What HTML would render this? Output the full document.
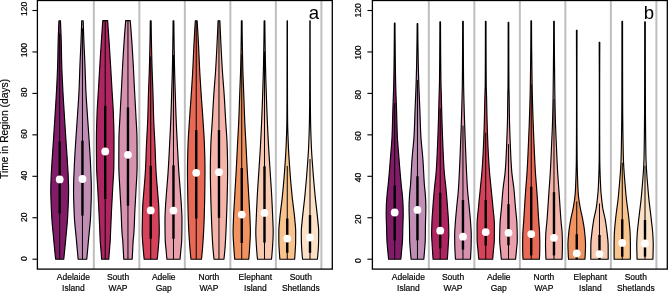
<!DOCTYPE html>
<html><head><meta charset="utf-8"><style>
html,body{margin:0;padding:0;background:#fff;width:668px;height:293px;overflow:hidden}
svg{display:block;will-change:transform}
text{font-family:"Liberation Sans",sans-serif;fill:#000;stroke:#000;stroke-width:0.18px}
.tk{font-size:8.5px}
.xl{font-size:8.5px}
.pl{font-size:18.6px;stroke-width:0}
.yt{font-size:10.27px}
</style></head><body>
<svg width="668" height="293" viewBox="0 0 668 293">
<rect width="668" height="293" fill="#fff"/>
<line x1="93.83" y1="0.50" x2="93.83" y2="269.10" stroke="#BEBEBE" stroke-width="2"/>
<line x1="139.34" y1="0.50" x2="139.34" y2="269.10" stroke="#BEBEBE" stroke-width="2"/>
<line x1="184.85" y1="0.50" x2="184.85" y2="269.10" stroke="#BEBEBE" stroke-width="2"/>
<line x1="230.36" y1="0.50" x2="230.36" y2="269.10" stroke="#BEBEBE" stroke-width="2"/>
<line x1="275.87" y1="0.50" x2="275.87" y2="269.10" stroke="#BEBEBE" stroke-width="2"/>
<line x1="321.38" y1="0.50" x2="321.38" y2="269.10" stroke="#BEBEBE" stroke-width="2"/>
<path d="M58.95,20.70 L58.86,22.70 L58.77,24.71 L58.68,26.71 L58.60,28.72 L58.52,30.72 L58.44,32.73 L58.37,34.73 L58.30,36.73 L58.24,38.74 L58.18,40.74 L58.13,42.75 L58.08,44.75 L58.04,46.75 L58.00,48.76 L57.96,50.76 L57.92,52.77 L57.88,54.77 L57.85,56.78 L57.80,58.78 L57.76,60.78 L57.71,62.79 L57.66,64.79 L57.59,66.80 L57.53,68.80 L57.45,70.81 L57.37,72.81 L57.29,74.81 L57.20,76.82 L57.11,78.82 L57.01,80.83 L56.91,82.83 L56.81,84.83 L56.71,86.84 L56.61,88.84 L56.51,90.85 L56.40,92.85 L56.29,94.86 L56.17,96.86 L56.06,98.86 L55.93,100.87 L55.81,102.87 L55.69,104.88 L55.56,106.88 L55.43,108.88 L55.31,110.89 L55.18,112.89 L55.06,114.90 L54.93,116.90 L54.81,118.91 L54.68,120.91 L54.55,122.91 L54.42,124.92 L54.30,126.92 L54.17,128.93 L54.04,130.93 L53.91,132.94 L53.78,134.94 L53.65,136.94 L53.52,138.95 L53.39,140.95 L53.25,142.96 L53.12,144.96 L52.98,146.96 L52.85,148.97 L52.71,150.97 L52.57,152.98 L52.44,154.98 L52.30,156.99 L52.17,158.99 L52.04,160.99 L51.92,163.00 L51.80,165.00 L51.68,167.01 L51.56,169.01 L51.44,171.02 L51.33,173.02 L51.23,175.02 L51.15,177.03 L51.07,179.03 L51.00,181.04 L50.93,183.04 L50.87,185.04 L50.83,187.05 L50.80,189.05 L50.80,191.06 L50.82,193.06 L50.85,195.07 L50.90,197.07 L50.95,199.07 L51.02,201.08 L51.10,203.08 L51.18,205.09 L51.27,207.09 L51.36,209.09 L51.46,211.10 L51.56,213.10 L51.65,215.11 L51.76,217.11 L51.89,219.12 L52.03,221.12 L52.19,223.12 L52.36,225.13 L52.54,227.13 L52.72,229.14 L52.91,231.14 L53.10,233.15 L53.30,235.15 L53.49,237.15 L53.67,239.16 L53.85,241.16 L54.04,243.17 L54.23,245.17 L54.42,247.17 L54.62,249.18 L54.82,251.18 L55.02,253.19 L55.23,255.19 L55.44,257.20 L55.65,259.20 L63.75,259.20 L63.96,257.20 L64.17,255.19 L64.38,253.19 L64.58,251.18 L64.78,249.18 L64.98,247.17 L65.17,245.17 L65.36,243.17 L65.54,241.16 L65.73,239.16 L65.91,237.15 L66.10,235.15 L66.30,233.15 L66.49,231.14 L66.68,229.14 L66.86,227.13 L67.04,225.13 L67.21,223.12 L67.37,221.12 L67.51,219.12 L67.64,217.11 L67.74,215.11 L67.84,213.10 L67.94,211.10 L68.04,209.09 L68.13,207.09 L68.22,205.09 L68.30,203.08 L68.38,201.08 L68.45,199.07 L68.50,197.07 L68.55,195.07 L68.58,193.06 L68.60,191.06 L68.60,189.05 L68.57,187.05 L68.53,185.04 L68.47,183.04 L68.40,181.04 L68.32,179.03 L68.25,177.03 L68.17,175.02 L68.07,173.02 L67.96,171.02 L67.84,169.01 L67.72,167.01 L67.60,165.00 L67.48,163.00 L67.35,160.99 L67.23,158.99 L67.10,156.99 L66.96,154.98 L66.83,152.98 L66.69,150.97 L66.55,148.97 L66.42,146.96 L66.28,144.96 L66.14,142.96 L66.01,140.95 L65.88,138.95 L65.75,136.94 L65.62,134.94 L65.49,132.94 L65.36,130.93 L65.23,128.93 L65.10,126.92 L64.97,124.92 L64.85,122.91 L64.72,120.91 L64.59,118.91 L64.47,116.90 L64.34,114.90 L64.22,112.89 L64.09,110.89 L63.97,108.88 L63.84,106.88 L63.71,104.88 L63.59,102.87 L63.46,100.87 L63.34,98.86 L63.23,96.86 L63.11,94.86 L63.00,92.85 L62.89,90.85 L62.79,88.84 L62.69,86.84 L62.59,84.83 L62.49,82.83 L62.39,80.83 L62.29,78.82 L62.20,76.82 L62.11,74.81 L62.03,72.81 L61.95,70.81 L61.87,68.80 L61.81,66.80 L61.74,64.79 L61.69,62.79 L61.64,60.78 L61.59,58.78 L61.55,56.78 L61.51,54.77 L61.48,52.77 L61.44,50.76 L61.40,48.76 L61.36,46.75 L61.32,44.75 L61.27,42.75 L61.22,40.74 L61.16,38.74 L61.10,36.73 L61.03,34.73 L60.96,32.73 L60.88,30.72 L60.80,28.72 L60.72,26.71 L60.63,24.71 L60.54,22.70 L60.45,20.70 Z" fill="#821B68" stroke="#000" stroke-width="1.15" stroke-linejoin="round"/>
<line x1="59.70" y1="33.50" x2="59.70" y2="259.20" stroke="#000" stroke-width="1"/>
<rect x="58.50" y="141.50" width="2.4" height="72.00" fill="#000"/>
<circle cx="59.70" cy="179.40" r="3.9" fill="#fff"/>
<path d="M81.70,20.70 L81.64,22.70 L81.58,24.71 L81.52,26.71 L81.45,28.72 L81.39,30.72 L81.32,32.73 L81.25,34.73 L81.18,36.73 L81.10,38.74 L81.03,40.74 L80.95,42.75 L80.86,44.75 L80.77,46.75 L80.68,48.76 L80.59,50.76 L80.50,52.77 L80.40,54.77 L80.31,56.78 L80.22,58.78 L80.13,60.78 L80.04,62.79 L79.96,64.79 L79.89,66.80 L79.81,68.80 L79.74,70.81 L79.68,72.81 L79.61,74.81 L79.55,76.82 L79.48,78.82 L79.41,80.83 L79.34,82.83 L79.27,84.83 L79.19,86.84 L79.11,88.84 L79.01,90.85 L78.92,92.85 L78.81,94.86 L78.69,96.86 L78.57,98.86 L78.45,100.87 L78.32,102.87 L78.18,104.88 L78.05,106.88 L77.91,108.88 L77.78,110.89 L77.64,112.89 L77.51,114.90 L77.38,116.90 L77.24,118.91 L77.11,120.91 L76.97,122.91 L76.83,124.92 L76.69,126.92 L76.55,128.93 L76.41,130.93 L76.27,132.94 L76.13,134.94 L76.00,136.94 L75.87,138.95 L75.74,140.95 L75.62,142.96 L75.49,144.96 L75.36,146.96 L75.23,148.97 L75.11,150.97 L74.98,152.98 L74.86,154.98 L74.75,156.99 L74.64,158.99 L74.54,160.99 L74.44,163.00 L74.35,165.00 L74.27,167.01 L74.18,169.01 L74.09,171.02 L74.01,173.02 L73.92,175.02 L73.84,177.03 L73.77,179.03 L73.70,181.04 L73.65,183.04 L73.60,185.04 L73.57,187.05 L73.56,189.05 L73.56,191.06 L73.57,193.06 L73.59,195.07 L73.63,197.07 L73.68,199.07 L73.73,201.08 L73.79,203.08 L73.86,205.09 L73.93,207.09 L74.01,209.09 L74.09,211.10 L74.17,213.10 L74.26,215.11 L74.36,217.11 L74.48,219.12 L74.63,221.12 L74.79,223.12 L74.96,225.13 L75.15,227.13 L75.35,229.14 L75.55,231.14 L75.75,233.15 L75.95,235.15 L76.14,237.15 L76.33,239.16 L76.51,241.16 L76.69,243.17 L76.87,245.17 L77.05,247.17 L77.23,249.18 L77.41,251.18 L77.60,253.19 L77.78,255.19 L77.97,257.20 L78.15,259.20 L86.75,259.20 L86.94,257.20 L87.13,255.19 L87.31,253.19 L87.50,251.18 L87.68,249.18 L87.86,247.17 L88.04,245.17 L88.22,243.17 L88.40,241.16 L88.58,239.16 L88.77,237.15 L88.96,235.15 L89.16,233.15 L89.36,231.14 L89.56,229.14 L89.76,227.13 L89.95,225.13 L90.12,223.12 L90.28,221.12 L90.43,219.12 L90.55,217.11 L90.65,215.11 L90.73,213.10 L90.82,211.10 L90.90,209.09 L90.98,207.09 L91.05,205.09 L91.12,203.08 L91.18,201.08 L91.23,199.07 L91.28,197.07 L91.31,195.07 L91.34,193.06 L91.35,191.06 L91.35,189.05 L91.34,187.05 L91.30,185.04 L91.26,183.04 L91.20,181.04 L91.14,179.03 L91.07,177.03 L90.99,175.02 L90.90,173.02 L90.81,171.02 L90.73,169.01 L90.64,167.01 L90.55,165.00 L90.47,163.00 L90.37,160.99 L90.27,158.99 L90.16,156.99 L90.04,154.98 L89.92,152.98 L89.80,150.97 L89.68,148.97 L89.55,146.96 L89.42,144.96 L89.29,142.96 L89.16,140.95 L89.04,138.95 L88.91,136.94 L88.77,134.94 L88.64,132.94 L88.50,130.93 L88.36,128.93 L88.22,126.92 L88.08,124.92 L87.94,122.91 L87.80,120.91 L87.66,118.91 L87.53,116.90 L87.40,114.90 L87.27,112.89 L87.13,110.89 L87.00,108.88 L86.86,106.88 L86.73,104.88 L86.59,102.87 L86.46,100.87 L86.34,98.86 L86.22,96.86 L86.10,94.86 L85.99,92.85 L85.89,90.85 L85.80,88.84 L85.72,86.84 L85.64,84.83 L85.57,82.83 L85.50,80.83 L85.43,78.82 L85.36,76.82 L85.30,74.81 L85.23,72.81 L85.17,70.81 L85.10,68.80 L85.02,66.80 L84.95,64.79 L84.86,62.79 L84.78,60.78 L84.69,58.78 L84.60,56.78 L84.50,54.77 L84.41,52.77 L84.32,50.76 L84.23,48.76 L84.14,46.75 L84.05,44.75 L83.96,42.75 L83.88,40.74 L83.81,38.74 L83.73,36.73 L83.66,34.73 L83.59,32.73 L83.52,30.72 L83.45,28.72 L83.39,26.71 L83.33,24.71 L83.26,22.70 L83.20,20.70 Z" fill="#C08DB4" stroke="#000" stroke-width="1.15" stroke-linejoin="round"/>
<line x1="82.45" y1="28.40" x2="82.45" y2="259.20" stroke="#000" stroke-width="1"/>
<rect x="81.25" y="140.70" width="2.4" height="74.90" fill="#000"/>
<circle cx="82.45" cy="179.00" r="3.9" fill="#fff"/>
<path d="M102.81,20.60 L102.66,22.61 L102.52,24.61 L102.38,26.62 L102.24,28.62 L102.10,30.63 L101.96,32.63 L101.82,34.64 L101.68,36.64 L101.55,38.65 L101.42,40.65 L101.28,42.66 L101.15,44.66 L101.02,46.67 L100.89,48.67 L100.76,50.68 L100.63,52.68 L100.50,54.69 L100.37,56.69 L100.25,58.70 L100.12,60.70 L100.00,62.71 L99.88,64.71 L99.75,66.72 L99.63,68.72 L99.52,70.73 L99.40,72.73 L99.28,74.74 L99.17,76.74 L99.05,78.75 L98.94,80.75 L98.82,82.76 L98.71,84.76 L98.59,86.77 L98.48,88.77 L98.36,90.78 L98.24,92.78 L98.12,94.79 L97.99,96.79 L97.87,98.80 L97.74,100.80 L97.62,102.81 L97.50,104.81 L97.38,106.82 L97.28,108.82 L97.18,110.83 L97.09,112.83 L97.01,114.84 L96.95,116.84 L96.88,118.85 L96.81,120.85 L96.74,122.86 L96.68,124.86 L96.62,126.87 L96.57,128.87 L96.52,130.88 L96.48,132.88 L96.45,134.89 L96.42,136.89 L96.41,138.90 L96.41,140.90 L96.41,142.91 L96.42,144.91 L96.42,146.92 L96.43,148.92 L96.44,150.93 L96.45,152.93 L96.47,154.94 L96.48,156.94 L96.50,158.95 L96.52,160.95 L96.54,162.96 L96.56,164.96 L96.59,166.97 L96.65,168.97 L96.72,170.98 L96.81,172.98 L96.91,174.99 L97.03,176.99 L97.15,179.00 L97.27,181.00 L97.40,183.01 L97.52,185.01 L97.64,187.02 L97.76,189.02 L97.86,191.03 L97.97,193.03 L98.07,195.04 L98.18,197.04 L98.29,199.05 L98.40,201.05 L98.51,203.06 L98.61,205.06 L98.71,207.07 L98.81,209.07 L98.91,211.08 L99.00,213.08 L99.10,215.09 L99.19,217.09 L99.28,219.10 L99.37,221.10 L99.46,223.11 L99.54,225.11 L99.63,227.12 L99.71,229.12 L99.80,231.13 L99.88,233.13 L99.96,235.14 L100.04,237.14 L100.12,239.15 L100.23,241.15 L100.37,243.16 L100.54,245.16 L100.72,247.17 L100.89,249.17 L101.05,251.18 L101.21,253.18 L101.36,255.19 L101.51,257.19 L101.66,259.20 L108.76,259.20 L108.91,257.19 L109.06,255.19 L109.21,253.18 L109.37,251.18 L109.53,249.17 L109.70,247.17 L109.88,245.16 L110.05,243.16 L110.19,241.15 L110.30,239.15 L110.38,237.14 L110.45,235.14 L110.54,233.13 L110.62,231.13 L110.70,229.12 L110.79,227.12 L110.88,225.11 L110.96,223.11 L111.05,221.10 L111.14,219.10 L111.23,217.09 L111.32,215.09 L111.41,213.08 L111.51,211.08 L111.60,209.07 L111.70,207.07 L111.81,205.06 L111.91,203.06 L112.02,201.05 L112.13,199.05 L112.24,197.04 L112.34,195.04 L112.45,193.03 L112.56,191.03 L112.66,189.02 L112.77,187.02 L112.89,185.01 L113.02,183.01 L113.14,181.00 L113.27,179.00 L113.39,176.99 L113.50,174.99 L113.61,172.98 L113.70,170.98 L113.77,168.97 L113.83,166.97 L113.86,164.96 L113.88,162.96 L113.90,160.95 L113.92,158.95 L113.94,156.94 L113.95,154.94 L113.96,152.93 L113.98,150.93 L113.99,148.92 L114.00,146.92 L114.00,144.91 L114.01,142.91 L114.01,140.90 L114.01,138.90 L113.99,136.89 L113.97,134.89 L113.94,132.88 L113.90,130.88 L113.85,128.87 L113.80,126.87 L113.74,124.86 L113.67,122.86 L113.61,120.85 L113.54,118.85 L113.47,116.84 L113.40,114.84 L113.33,112.83 L113.24,110.83 L113.14,108.82 L113.04,106.82 L112.92,104.81 L112.80,102.81 L112.68,100.80 L112.55,98.80 L112.42,96.79 L112.30,94.79 L112.17,92.78 L112.05,90.78 L111.94,88.77 L111.82,86.77 L111.71,84.76 L111.60,82.76 L111.48,80.75 L111.37,78.75 L111.25,76.74 L111.14,74.74 L111.02,72.73 L110.90,70.73 L110.78,68.72 L110.66,66.72 L110.54,64.71 L110.42,62.71 L110.29,60.70 L110.17,58.70 L110.04,56.69 L109.92,54.69 L109.79,52.68 L109.66,50.68 L109.53,48.67 L109.40,46.67 L109.27,44.66 L109.14,42.66 L109.00,40.65 L108.87,38.65 L108.73,36.64 L108.60,34.64 L108.46,32.63 L108.32,30.63 L108.18,28.62 L108.04,26.62 L107.90,24.61 L107.75,22.61 L107.61,20.60 Z" fill="#AF2562" stroke="#000" stroke-width="1.15" stroke-linejoin="round"/>
<line x1="105.21" y1="20.60" x2="105.21" y2="259.20" stroke="#000" stroke-width="1"/>
<rect x="104.01" y="106.00" width="2.4" height="93.00" fill="#000"/>
<circle cx="105.21" cy="151.50" r="3.9" fill="#fff"/>
<path d="M125.71,20.60 L125.55,22.61 L125.38,24.61 L125.22,26.62 L125.06,28.62 L124.90,30.63 L124.75,32.63 L124.60,34.64 L124.45,36.64 L124.31,38.65 L124.17,40.65 L124.03,42.66 L123.90,44.66 L123.77,46.67 L123.64,48.67 L123.51,50.68 L123.38,52.68 L123.26,54.69 L123.14,56.69 L123.02,58.70 L122.91,60.70 L122.79,62.71 L122.68,64.71 L122.57,66.72 L122.46,68.72 L122.36,70.73 L122.26,72.73 L122.16,74.74 L122.06,76.74 L121.97,78.75 L121.87,80.75 L121.77,82.76 L121.68,84.76 L121.58,86.77 L121.48,88.77 L121.37,90.78 L121.27,92.78 L121.16,94.79 L121.05,96.79 L120.94,98.80 L120.83,100.80 L120.71,102.81 L120.60,104.81 L120.49,106.82 L120.38,108.82 L120.28,110.83 L120.17,112.83 L120.07,114.84 L119.97,116.84 L119.86,118.85 L119.74,120.85 L119.62,122.86 L119.51,124.86 L119.39,126.87 L119.28,128.87 L119.18,130.88 L119.09,132.88 L119.02,134.89 L118.96,136.89 L118.93,138.90 L118.91,140.90 L118.89,142.91 L118.88,144.91 L118.87,146.92 L118.86,148.92 L118.85,150.93 L118.84,152.93 L118.83,154.94 L118.82,156.94 L118.82,158.95 L118.82,160.95 L118.81,162.96 L118.81,164.96 L118.83,166.97 L118.86,168.97 L118.92,170.98 L118.99,172.98 L119.08,174.99 L119.18,176.99 L119.29,179.00 L119.41,181.00 L119.53,183.01 L119.64,185.01 L119.76,187.02 L119.86,189.02 L119.96,191.03 L120.07,193.03 L120.18,195.04 L120.29,197.04 L120.41,199.05 L120.52,201.05 L120.64,203.06 L120.75,205.06 L120.86,207.07 L120.97,209.07 L121.07,211.08 L121.16,213.08 L121.24,215.09 L121.32,217.09 L121.39,219.10 L121.47,221.10 L121.55,223.11 L121.63,225.11 L121.71,227.12 L121.81,229.12 L121.92,231.13 L122.04,233.13 L122.17,235.14 L122.39,237.14 L122.64,239.15 L122.80,241.15 L122.92,243.16 L123.02,245.16 L123.12,247.17 L123.22,249.17 L123.33,251.18 L123.44,253.18 L123.55,255.19 L123.65,257.19 L123.76,259.20 L132.16,259.20 L132.27,257.19 L132.38,255.19 L132.49,253.18 L132.60,251.18 L132.71,249.17 L132.81,247.17 L132.90,245.16 L133.01,243.16 L133.13,241.15 L133.29,239.15 L133.54,237.14 L133.75,235.14 L133.89,233.13 L134.01,231.13 L134.12,229.12 L134.21,227.12 L134.30,225.11 L134.38,223.11 L134.46,221.10 L134.53,219.10 L134.61,217.09 L134.69,215.09 L134.77,213.08 L134.86,211.08 L134.96,209.07 L135.07,207.07 L135.18,205.06 L135.29,203.06 L135.41,201.05 L135.52,199.05 L135.64,197.04 L135.75,195.04 L135.86,193.03 L135.96,191.03 L136.06,189.02 L136.17,187.02 L136.28,185.01 L136.40,183.01 L136.52,181.00 L136.63,179.00 L136.74,176.99 L136.84,174.99 L136.93,172.98 L137.01,170.98 L137.06,168.97 L137.10,166.97 L137.11,164.96 L137.11,162.96 L137.11,160.95 L137.11,158.95 L137.10,156.94 L137.10,154.94 L137.09,152.93 L137.08,150.93 L137.07,148.92 L137.06,146.92 L137.05,144.91 L137.03,142.91 L137.02,140.90 L137.00,138.90 L136.96,136.89 L136.91,134.89 L136.83,132.88 L136.74,130.88 L136.64,128.87 L136.54,126.87 L136.42,124.86 L136.30,122.86 L136.19,120.85 L136.07,118.85 L135.96,116.84 L135.86,114.84 L135.75,112.83 L135.65,110.83 L135.54,108.82 L135.43,106.82 L135.32,104.81 L135.21,102.81 L135.10,100.80 L134.99,98.80 L134.88,96.79 L134.77,94.79 L134.66,92.78 L134.55,90.78 L134.45,88.77 L134.35,86.77 L134.25,84.76 L134.15,82.76 L134.06,80.75 L133.96,78.75 L133.86,76.74 L133.77,74.74 L133.67,72.73 L133.57,70.73 L133.46,68.72 L133.36,66.72 L133.25,64.71 L133.14,62.71 L133.02,60.70 L132.90,58.70 L132.79,56.69 L132.67,54.69 L132.54,52.68 L132.42,50.68 L132.29,48.67 L132.16,46.67 L132.03,44.66 L131.89,42.66 L131.76,40.65 L131.62,38.65 L131.48,36.64 L131.33,34.64 L131.18,32.63 L131.02,30.63 L130.87,28.62 L130.71,26.62 L130.55,24.61 L130.38,22.61 L130.21,20.60 Z" fill="#D792B0" stroke="#000" stroke-width="1.15" stroke-linejoin="round"/>
<line x1="127.96" y1="20.60" x2="127.96" y2="259.20" stroke="#000" stroke-width="1"/>
<rect x="126.76" y="107.50" width="2.4" height="98.20" fill="#000"/>
<circle cx="127.96" cy="154.80" r="3.9" fill="#fff"/>
<path d="M150.32,20.70 L150.30,22.70 L150.27,24.71 L150.25,26.71 L150.22,28.72 L150.19,30.72 L150.16,32.73 L150.13,34.73 L150.09,36.73 L150.06,38.74 L150.02,40.74 L149.98,42.75 L149.94,44.75 L149.90,46.75 L149.85,48.76 L149.81,50.76 L149.76,52.77 L149.72,54.77 L149.67,56.78 L149.62,58.78 L149.57,60.78 L149.52,62.79 L149.47,64.79 L149.42,66.80 L149.36,68.80 L149.30,70.81 L149.23,72.81 L149.16,74.81 L149.09,76.82 L149.01,78.82 L148.93,80.83 L148.86,82.83 L148.78,84.83 L148.70,86.84 L148.63,88.84 L148.56,90.85 L148.49,92.85 L148.42,94.86 L148.36,96.86 L148.31,98.86 L148.25,100.87 L148.20,102.87 L148.15,104.88 L148.10,106.88 L148.05,108.88 L148.00,110.89 L147.94,112.89 L147.88,114.90 L147.82,116.90 L147.76,118.91 L147.68,120.91 L147.60,122.91 L147.51,124.92 L147.42,126.92 L147.31,128.93 L147.21,130.93 L147.10,132.94 L146.99,134.94 L146.88,136.94 L146.77,138.95 L146.66,140.95 L146.56,142.96 L146.47,144.96 L146.38,146.96 L146.30,148.97 L146.23,150.97 L146.15,152.98 L146.08,154.98 L146.01,156.99 L145.94,158.99 L145.86,160.99 L145.79,163.00 L145.70,165.00 L145.62,167.01 L145.52,169.01 L145.41,171.02 L145.29,173.02 L145.16,175.02 L145.02,177.03 L144.87,179.03 L144.71,181.04 L144.55,183.04 L144.38,185.04 L144.21,187.05 L144.04,189.05 L143.88,191.06 L143.72,193.06 L143.56,195.07 L143.40,197.07 L143.23,199.07 L143.05,201.08 L142.89,203.08 L142.76,205.09 L142.66,207.09 L142.60,209.09 L142.55,211.10 L142.50,213.10 L142.46,215.11 L142.42,217.11 L142.38,219.12 L142.35,221.12 L142.30,223.12 L142.26,225.13 L142.22,227.13 L142.19,229.14 L142.17,231.14 L142.18,233.15 L142.25,235.15 L142.35,237.15 L142.47,239.16 L142.59,241.16 L142.73,243.17 L142.90,245.17 L143.07,247.17 L143.25,249.18 L143.42,251.18 L143.60,253.19 L143.78,255.19 L143.97,257.20 L144.17,259.20 L157.27,259.20 L157.46,257.20 L157.65,255.19 L157.84,253.19 L158.02,251.18 L158.19,249.18 L158.37,247.17 L158.54,245.17 L158.70,243.17 L158.85,241.16 L158.97,239.16 L159.09,237.15 L159.19,235.15 L159.26,233.15 L159.27,231.14 L159.25,229.14 L159.22,227.13 L159.18,225.13 L159.13,223.12 L159.09,221.12 L159.05,219.12 L159.01,217.11 L158.98,215.11 L158.94,213.10 L158.89,211.10 L158.84,209.09 L158.77,207.09 L158.68,205.09 L158.54,203.08 L158.38,201.08 L158.21,199.07 L158.04,197.07 L157.87,195.07 L157.72,193.06 L157.56,191.06 L157.39,189.05 L157.23,187.05 L157.06,185.04 L156.89,183.04 L156.73,181.04 L156.57,179.03 L156.42,177.03 L156.27,175.02 L156.14,173.02 L156.02,171.02 L155.92,169.01 L155.82,167.01 L155.73,165.00 L155.65,163.00 L155.57,160.99 L155.50,158.99 L155.42,156.99 L155.35,154.98 L155.28,152.98 L155.21,150.97 L155.13,148.97 L155.05,146.96 L154.97,144.96 L154.87,142.96 L154.77,140.95 L154.67,138.95 L154.56,136.94 L154.45,134.94 L154.34,132.94 L154.23,130.93 L154.12,128.93 L154.02,126.92 L153.92,124.92 L153.83,122.91 L153.75,120.91 L153.68,118.91 L153.61,116.90 L153.55,114.90 L153.49,112.89 L153.44,110.89 L153.39,108.88 L153.34,106.88 L153.29,104.88 L153.24,102.87 L153.18,100.87 L153.13,98.86 L153.07,96.86 L153.01,94.86 L152.95,92.85 L152.88,90.85 L152.81,88.84 L152.73,86.84 L152.66,84.83 L152.58,82.83 L152.50,80.83 L152.43,78.82 L152.35,76.82 L152.28,74.81 L152.21,72.81 L152.14,70.81 L152.07,68.80 L152.02,66.80 L151.96,64.79 L151.91,62.79 L151.86,60.78 L151.81,58.78 L151.77,56.78 L151.72,54.77 L151.67,52.77 L151.63,50.76 L151.58,48.76 L151.54,46.75 L151.50,44.75 L151.46,42.75 L151.42,40.74 L151.38,38.74 L151.34,36.73 L151.31,34.73 L151.27,32.73 L151.24,30.72 L151.21,28.72 L151.19,26.71 L151.16,24.71 L151.14,22.70 L151.12,20.70 Z" fill="#D54259" stroke="#000" stroke-width="1.15" stroke-linejoin="round"/>
<line x1="150.72" y1="56.40" x2="150.72" y2="259.20" stroke="#000" stroke-width="1"/>
<rect x="149.52" y="165.80" width="2.4" height="72.90" fill="#000"/>
<circle cx="150.72" cy="210.40" r="3.9" fill="#fff"/>
<path d="M173.07,20.70 L173.06,22.70 L173.05,24.71 L173.03,26.71 L173.02,28.72 L173.00,30.72 L172.98,32.73 L172.96,34.73 L172.93,36.73 L172.91,38.74 L172.88,40.74 L172.85,42.75 L172.82,44.75 L172.79,46.75 L172.76,48.76 L172.73,50.76 L172.69,52.77 L172.66,54.77 L172.62,56.78 L172.59,58.78 L172.55,60.78 L172.51,62.79 L172.48,64.79 L172.44,66.80 L172.39,68.80 L172.35,70.81 L172.30,72.81 L172.24,74.81 L172.19,76.82 L172.13,78.82 L172.07,80.83 L172.01,82.83 L171.94,84.83 L171.88,86.84 L171.82,88.84 L171.75,90.85 L171.69,92.85 L171.63,94.86 L171.56,96.86 L171.50,98.86 L171.44,100.87 L171.38,102.87 L171.31,104.88 L171.25,106.88 L171.18,108.88 L171.11,110.89 L171.04,112.89 L170.97,114.90 L170.89,116.90 L170.82,118.91 L170.74,120.91 L170.65,122.91 L170.56,124.92 L170.47,126.92 L170.38,128.93 L170.28,130.93 L170.19,132.94 L170.09,134.94 L169.98,136.94 L169.88,138.95 L169.78,140.95 L169.68,142.96 L169.57,144.96 L169.47,146.96 L169.37,148.97 L169.27,150.97 L169.17,152.98 L169.07,154.98 L168.96,156.99 L168.86,158.99 L168.75,160.99 L168.64,163.00 L168.52,165.00 L168.41,167.01 L168.28,169.01 L168.16,171.02 L168.02,173.02 L167.88,175.02 L167.73,177.03 L167.58,179.03 L167.42,181.04 L167.26,183.04 L167.10,185.04 L166.94,187.05 L166.78,189.05 L166.62,191.06 L166.47,193.06 L166.32,195.07 L166.17,197.07 L166.01,199.07 L165.86,201.08 L165.71,203.08 L165.58,205.09 L165.47,207.09 L165.36,209.09 L165.26,211.10 L165.16,213.10 L165.07,215.11 L165.01,217.11 L164.98,219.12 L164.97,221.12 L164.98,223.12 L164.99,225.13 L165.01,227.13 L165.03,229.14 L165.05,231.14 L165.08,233.15 L165.12,235.15 L165.16,237.15 L165.20,239.16 L165.27,241.16 L165.40,243.17 L165.58,245.17 L165.79,247.17 L166.00,249.18 L166.18,251.18 L166.36,253.19 L166.54,255.19 L166.73,257.20 L166.92,259.20 L180.02,259.20 L180.21,257.20 L180.40,255.19 L180.59,253.19 L180.77,251.18 L180.95,249.18 L181.15,247.17 L181.36,245.17 L181.55,243.17 L181.68,241.16 L181.74,239.16 L181.79,237.15 L181.83,235.15 L181.86,233.15 L181.89,231.14 L181.92,229.14 L181.94,227.13 L181.96,225.13 L181.97,223.12 L181.97,221.12 L181.97,219.12 L181.93,217.11 L181.87,215.11 L181.79,213.10 L181.69,211.10 L181.58,209.09 L181.48,207.09 L181.37,205.09 L181.23,203.08 L181.09,201.08 L180.93,199.07 L180.78,197.07 L180.63,195.07 L180.48,193.06 L180.32,191.06 L180.17,189.05 L180.01,187.05 L179.85,185.04 L179.69,183.04 L179.53,181.04 L179.37,179.03 L179.21,177.03 L179.07,175.02 L178.92,173.02 L178.79,171.02 L178.66,169.01 L178.54,167.01 L178.42,165.00 L178.31,163.00 L178.20,160.99 L178.09,158.99 L177.98,156.99 L177.88,154.98 L177.78,152.98 L177.67,150.97 L177.57,148.97 L177.47,146.96 L177.37,144.96 L177.27,142.96 L177.17,140.95 L177.06,138.95 L176.96,136.94 L176.86,134.94 L176.76,132.94 L176.66,130.93 L176.57,128.93 L176.47,126.92 L176.38,124.92 L176.29,122.91 L176.21,120.91 L176.13,118.91 L176.05,116.90 L175.98,114.90 L175.91,112.89 L175.84,110.89 L175.77,108.88 L175.70,106.88 L175.63,104.88 L175.57,102.87 L175.51,100.87 L175.44,98.86 L175.38,96.86 L175.32,94.86 L175.26,92.85 L175.19,90.85 L175.13,88.84 L175.06,86.84 L175.00,84.83 L174.94,82.83 L174.88,80.83 L174.82,78.82 L174.76,76.82 L174.70,74.81 L174.65,72.81 L174.60,70.81 L174.55,68.80 L174.51,66.80 L174.47,64.79 L174.43,62.79 L174.39,60.78 L174.36,58.78 L174.32,56.78 L174.29,54.77 L174.25,52.77 L174.22,50.76 L174.19,48.76 L174.15,46.75 L174.12,44.75 L174.09,42.75 L174.07,40.74 L174.04,38.74 L174.01,36.73 L173.99,34.73 L173.97,32.73 L173.95,30.72 L173.93,28.72 L173.91,26.71 L173.90,24.71 L173.88,22.70 L173.87,20.70 Z" fill="#EAA0AC" stroke="#000" stroke-width="1.15" stroke-linejoin="round"/>
<line x1="173.47" y1="55.00" x2="173.47" y2="259.20" stroke="#000" stroke-width="1"/>
<rect x="172.27" y="165.30" width="2.4" height="73.40" fill="#000"/>
<circle cx="173.47" cy="210.60" r="3.9" fill="#fff"/>
<path d="M195.33,20.70 L195.20,22.70 L195.08,24.71 L194.95,26.71 L194.83,28.72 L194.71,30.72 L194.60,32.73 L194.48,34.73 L194.37,36.73 L194.26,38.74 L194.15,40.74 L194.04,42.75 L193.94,44.75 L193.84,46.75 L193.74,48.76 L193.65,50.76 L193.56,52.77 L193.47,54.77 L193.39,56.78 L193.30,58.78 L193.22,60.78 L193.13,62.79 L193.03,64.79 L192.94,66.80 L192.84,68.80 L192.73,70.81 L192.62,72.81 L192.51,74.81 L192.39,76.82 L192.27,78.82 L192.15,80.83 L192.02,82.83 L191.89,84.83 L191.76,86.84 L191.63,88.84 L191.50,90.85 L191.37,92.85 L191.24,94.86 L191.10,96.86 L190.97,98.86 L190.82,100.87 L190.68,102.87 L190.54,104.88 L190.39,106.88 L190.24,108.88 L190.10,110.89 L189.96,112.89 L189.82,114.90 L189.68,116.90 L189.55,118.91 L189.42,120.91 L189.29,122.91 L189.15,124.92 L189.02,126.92 L188.89,128.93 L188.75,130.93 L188.63,132.94 L188.50,134.94 L188.39,136.94 L188.28,138.95 L188.18,140.95 L188.10,142.96 L188.03,144.96 L187.96,146.96 L187.90,148.97 L187.84,150.97 L187.78,152.98 L187.72,154.98 L187.67,156.99 L187.62,158.99 L187.57,160.99 L187.54,163.00 L187.51,165.00 L187.49,167.01 L187.48,169.01 L187.48,171.02 L187.48,173.02 L187.49,175.02 L187.51,177.03 L187.52,179.03 L187.54,181.04 L187.56,183.04 L187.59,185.04 L187.62,187.05 L187.64,189.05 L187.67,191.06 L187.70,193.06 L187.73,195.07 L187.76,197.07 L187.79,199.07 L187.83,201.08 L187.87,203.08 L187.91,205.09 L187.96,207.09 L188.01,209.09 L188.06,211.10 L188.11,213.10 L188.17,215.11 L188.23,217.11 L188.30,219.12 L188.37,221.12 L188.44,223.12 L188.52,225.13 L188.61,227.13 L188.71,229.14 L188.81,231.14 L188.92,233.15 L189.04,235.15 L189.16,237.15 L189.29,239.16 L189.42,241.16 L189.55,243.17 L189.69,245.17 L189.84,247.17 L190.00,249.18 L190.18,251.18 L190.37,253.19 L190.56,255.19 L190.77,257.20 L190.98,259.20 L201.48,259.20 L201.69,257.20 L201.89,255.19 L202.09,253.19 L202.28,251.18 L202.45,249.18 L202.62,247.17 L202.77,245.17 L202.90,243.17 L203.04,241.16 L203.17,239.16 L203.29,237.15 L203.41,235.15 L203.53,233.15 L203.64,231.14 L203.74,229.14 L203.84,227.13 L203.93,225.13 L204.01,223.12 L204.09,221.12 L204.16,219.12 L204.22,217.11 L204.28,215.11 L204.34,213.10 L204.40,211.10 L204.45,209.09 L204.50,207.09 L204.54,205.09 L204.59,203.08 L204.63,201.08 L204.66,199.07 L204.70,197.07 L204.73,195.07 L204.75,193.06 L204.78,191.06 L204.81,189.05 L204.84,187.05 L204.87,185.04 L204.89,183.04 L204.91,181.04 L204.93,179.03 L204.95,177.03 L204.96,175.02 L204.97,173.02 L204.98,171.02 L204.98,169.01 L204.97,167.01 L204.95,165.00 L204.92,163.00 L204.88,160.99 L204.84,158.99 L204.79,156.99 L204.74,154.98 L204.68,152.98 L204.62,150.97 L204.55,148.97 L204.49,146.96 L204.43,144.96 L204.35,142.96 L204.27,140.95 L204.17,138.95 L204.07,136.94 L203.95,134.94 L203.83,132.94 L203.70,130.93 L203.57,128.93 L203.43,126.92 L203.30,124.92 L203.17,122.91 L203.04,120.91 L202.91,118.91 L202.77,116.90 L202.64,114.90 L202.50,112.89 L202.35,110.89 L202.21,108.88 L202.06,106.88 L201.92,104.88 L201.77,102.87 L201.63,100.87 L201.49,98.86 L201.35,96.86 L201.22,94.86 L201.09,92.85 L200.95,90.85 L200.82,88.84 L200.69,86.84 L200.56,84.83 L200.43,82.83 L200.31,80.83 L200.18,78.82 L200.06,76.82 L199.94,74.81 L199.83,72.81 L199.72,70.81 L199.62,68.80 L199.52,66.80 L199.42,64.79 L199.33,62.79 L199.24,60.78 L199.15,58.78 L199.07,56.78 L198.98,54.77 L198.89,52.77 L198.80,50.76 L198.71,48.76 L198.62,46.75 L198.51,44.75 L198.41,42.75 L198.30,40.74 L198.20,38.74 L198.08,36.73 L197.97,34.73 L197.86,32.73 L197.74,30.72 L197.62,28.72 L197.50,26.71 L197.38,24.71 L197.25,22.70 L197.13,20.70 Z" fill="#E86955" stroke="#000" stroke-width="1.15" stroke-linejoin="round"/>
<line x1="196.23" y1="20.70" x2="196.23" y2="259.20" stroke="#000" stroke-width="1"/>
<rect x="195.03" y="130.10" width="2.4" height="88.40" fill="#000"/>
<circle cx="196.23" cy="172.80" r="3.9" fill="#fff"/>
<path d="M218.08,20.70 L218.00,22.70 L217.91,24.71 L217.83,26.71 L217.74,28.72 L217.65,30.72 L217.56,32.73 L217.47,34.73 L217.38,36.73 L217.28,38.74 L217.19,40.74 L217.09,42.75 L216.99,44.75 L216.90,46.75 L216.80,48.76 L216.70,50.76 L216.59,52.77 L216.49,54.77 L216.39,56.78 L216.28,58.78 L216.17,60.78 L216.06,62.79 L215.94,64.79 L215.83,66.80 L215.71,68.80 L215.58,70.81 L215.45,72.81 L215.31,74.81 L215.16,76.82 L215.00,78.82 L214.85,80.83 L214.69,82.83 L214.53,84.83 L214.37,86.84 L214.22,88.84 L214.07,90.85 L213.93,92.85 L213.79,94.86 L213.66,96.86 L213.54,98.86 L213.42,100.87 L213.30,102.87 L213.19,104.88 L213.07,106.88 L212.96,108.88 L212.85,110.89 L212.74,112.89 L212.63,114.90 L212.51,116.90 L212.40,118.91 L212.28,120.91 L212.15,122.91 L212.02,124.92 L211.88,126.92 L211.74,128.93 L211.60,130.93 L211.46,132.94 L211.33,134.94 L211.21,136.94 L211.09,138.95 L210.99,140.95 L210.90,142.96 L210.83,144.96 L210.77,146.96 L210.71,148.97 L210.66,150.97 L210.60,152.98 L210.55,154.98 L210.50,156.99 L210.46,158.99 L210.42,160.99 L210.39,163.00 L210.36,165.00 L210.34,167.01 L210.33,169.01 L210.33,171.02 L210.34,173.02 L210.36,175.02 L210.38,177.03 L210.41,179.03 L210.44,181.04 L210.48,183.04 L210.52,185.04 L210.56,187.05 L210.60,189.05 L210.65,191.06 L210.69,193.06 L210.73,195.07 L210.78,197.07 L210.83,199.07 L210.88,201.08 L210.94,203.08 L211.00,205.09 L211.07,207.09 L211.13,209.09 L211.20,211.10 L211.27,213.10 L211.35,215.11 L211.42,217.11 L211.50,219.12 L211.58,221.12 L211.65,223.12 L211.73,225.13 L211.81,227.13 L211.90,229.14 L211.99,231.14 L212.08,233.15 L212.18,235.15 L212.28,237.15 L212.38,239.16 L212.50,241.16 L212.62,243.17 L212.74,245.17 L212.88,247.17 L213.05,249.18 L213.22,251.18 L213.41,253.19 L213.61,255.19 L213.82,257.20 L214.03,259.20 L223.93,259.20 L224.15,257.20 L224.35,255.19 L224.55,253.19 L224.74,251.18 L224.92,249.18 L225.08,247.17 L225.22,245.17 L225.35,243.17 L225.47,241.16 L225.58,239.16 L225.69,237.15 L225.79,235.15 L225.88,233.15 L225.98,231.14 L226.06,229.14 L226.15,227.13 L226.23,225.13 L226.31,223.12 L226.39,221.12 L226.47,219.12 L226.54,217.11 L226.62,215.11 L226.69,213.10 L226.76,211.10 L226.83,209.09 L226.90,207.09 L226.96,205.09 L227.02,203.08 L227.08,201.08 L227.14,199.07 L227.19,197.07 L227.23,195.07 L227.27,193.06 L227.32,191.06 L227.36,189.05 L227.41,187.05 L227.45,185.04 L227.49,183.04 L227.52,181.04 L227.56,179.03 L227.59,177.03 L227.61,175.02 L227.62,173.02 L227.63,171.02 L227.63,169.01 L227.62,167.01 L227.60,165.00 L227.58,163.00 L227.55,160.99 L227.51,158.99 L227.46,156.99 L227.42,154.98 L227.36,152.98 L227.31,150.97 L227.25,148.97 L227.19,146.96 L227.13,144.96 L227.06,142.96 L226.97,140.95 L226.87,138.95 L226.76,136.94 L226.63,134.94 L226.50,132.94 L226.36,130.93 L226.23,128.93 L226.09,126.92 L225.95,124.92 L225.81,122.91 L225.69,120.91 L225.57,118.91 L225.45,116.90 L225.34,114.90 L225.23,112.89 L225.11,110.89 L225.00,108.88 L224.89,106.88 L224.78,104.88 L224.66,102.87 L224.55,100.87 L224.42,98.86 L224.30,96.86 L224.17,94.86 L224.04,92.85 L223.89,90.85 L223.74,88.84 L223.59,86.84 L223.43,84.83 L223.27,82.83 L223.12,80.83 L222.96,78.82 L222.81,76.82 L222.66,74.81 L222.52,72.81 L222.38,70.81 L222.26,68.80 L222.14,66.80 L222.02,64.79 L221.90,62.79 L221.79,60.78 L221.68,58.78 L221.58,56.78 L221.47,54.77 L221.37,52.77 L221.27,50.76 L221.17,48.76 L221.07,46.75 L220.97,44.75 L220.87,42.75 L220.78,40.74 L220.68,38.74 L220.59,36.73 L220.49,34.73 L220.40,32.73 L220.31,30.72 L220.22,28.72 L220.14,26.71 L220.05,24.71 L219.96,22.70 L219.88,20.70 Z" fill="#F4B4AA" stroke="#000" stroke-width="1.15" stroke-linejoin="round"/>
<line x1="218.98" y1="20.70" x2="218.98" y2="259.20" stroke="#000" stroke-width="1"/>
<rect x="217.78" y="130.10" width="2.4" height="87.80" fill="#000"/>
<circle cx="218.98" cy="172.20" r="3.9" fill="#fff"/>
<path d="M241.39,20.70 L241.38,22.70 L241.37,24.71 L241.36,26.71 L241.34,28.72 L241.32,30.72 L241.30,32.73 L241.28,34.73 L241.25,36.73 L241.23,38.74 L241.20,40.74 L241.17,42.75 L241.13,44.75 L241.10,46.75 L241.06,48.76 L241.03,50.76 L240.99,52.77 L240.95,54.77 L240.91,56.78 L240.87,58.78 L240.83,60.78 L240.78,62.79 L240.74,64.79 L240.70,66.80 L240.64,68.80 L240.59,70.81 L240.52,72.81 L240.46,74.81 L240.38,76.82 L240.31,78.82 L240.23,80.83 L240.16,82.83 L240.08,84.83 L240.00,86.84 L239.92,88.84 L239.84,90.85 L239.76,92.85 L239.69,94.86 L239.62,96.86 L239.55,98.86 L239.48,100.87 L239.42,102.87 L239.35,104.88 L239.28,106.88 L239.21,108.88 L239.14,110.89 L239.07,112.89 L238.99,114.90 L238.91,116.90 L238.83,118.91 L238.75,120.91 L238.66,122.91 L238.56,124.92 L238.46,126.92 L238.36,128.93 L238.25,130.93 L238.14,132.94 L238.03,134.94 L237.92,136.94 L237.81,138.95 L237.70,140.95 L237.59,142.96 L237.49,144.96 L237.39,146.96 L237.29,148.97 L237.19,150.97 L237.09,152.98 L236.99,154.98 L236.90,156.99 L236.80,158.99 L236.70,160.99 L236.60,163.00 L236.50,165.00 L236.39,167.01 L236.29,169.01 L236.18,171.02 L236.07,173.02 L235.96,175.02 L235.84,177.03 L235.72,179.03 L235.61,181.04 L235.49,183.04 L235.37,185.04 L235.25,187.05 L235.13,189.05 L235.01,191.06 L234.90,193.06 L234.78,195.07 L234.67,197.07 L234.55,199.07 L234.43,201.08 L234.31,203.08 L234.19,205.09 L234.07,207.09 L233.96,209.09 L233.85,211.10 L233.74,213.10 L233.64,215.11 L233.55,217.11 L233.47,219.12 L233.39,221.12 L233.32,223.12 L233.24,225.13 L233.17,227.13 L233.12,229.14 L233.09,231.14 L233.09,233.15 L233.14,235.15 L233.22,237.15 L233.33,239.16 L233.45,241.16 L233.58,243.17 L233.70,245.17 L233.82,247.17 L233.95,249.18 L234.09,251.18 L234.24,253.19 L234.40,255.19 L234.56,257.20 L234.74,259.20 L248.74,259.20 L248.91,257.20 L249.08,255.19 L249.24,253.19 L249.39,251.18 L249.53,249.18 L249.66,247.17 L249.78,245.17 L249.90,243.17 L250.02,241.16 L250.14,239.16 L250.25,237.15 L250.33,235.15 L250.38,233.15 L250.38,231.14 L250.36,229.14 L250.30,227.13 L250.24,225.13 L250.16,223.12 L250.08,221.12 L250.00,219.12 L249.92,217.11 L249.83,215.11 L249.73,213.10 L249.62,211.10 L249.51,209.09 L249.40,207.09 L249.28,205.09 L249.16,203.08 L249.04,201.08 L248.92,199.07 L248.80,197.07 L248.69,195.07 L248.58,193.06 L248.46,191.06 L248.34,189.05 L248.23,187.05 L248.11,185.04 L247.99,183.04 L247.87,181.04 L247.75,179.03 L247.63,177.03 L247.52,175.02 L247.40,173.02 L247.29,171.02 L247.18,169.01 L247.08,167.01 L246.98,165.00 L246.87,163.00 L246.77,160.99 L246.68,158.99 L246.58,156.99 L246.48,154.98 L246.38,152.98 L246.28,150.97 L246.19,148.97 L246.09,146.96 L245.98,144.96 L245.88,142.96 L245.77,140.95 L245.66,138.95 L245.55,136.94 L245.44,134.94 L245.33,132.94 L245.23,130.93 L245.12,128.93 L245.01,126.92 L244.91,124.92 L244.82,122.91 L244.73,120.91 L244.64,118.91 L244.56,116.90 L244.48,114.90 L244.41,112.89 L244.33,110.89 L244.26,108.88 L244.19,106.88 L244.12,104.88 L244.06,102.87 L243.99,100.87 L243.92,98.86 L243.85,96.86 L243.78,94.86 L243.71,92.85 L243.63,90.85 L243.56,88.84 L243.48,86.84 L243.40,84.83 L243.32,82.83 L243.24,80.83 L243.16,78.82 L243.09,76.82 L243.02,74.81 L242.95,72.81 L242.89,70.81 L242.83,68.80 L242.78,66.80 L242.73,64.79 L242.69,62.79 L242.65,60.78 L242.61,58.78 L242.57,56.78 L242.52,54.77 L242.49,52.77 L242.45,50.76 L242.41,48.76 L242.37,46.75 L242.34,44.75 L242.31,42.75 L242.28,40.74 L242.25,38.74 L242.22,36.73 L242.19,34.73 L242.17,32.73 L242.15,30.72 L242.13,28.72 L242.12,26.71 L242.10,24.71 L242.09,22.70 L242.09,20.70 Z" fill="#F19360" stroke="#000" stroke-width="1.15" stroke-linejoin="round"/>
<line x1="241.74" y1="54.30" x2="241.74" y2="259.20" stroke="#000" stroke-width="1"/>
<rect x="240.54" y="168.00" width="2.4" height="75.00" fill="#000"/>
<circle cx="241.74" cy="214.60" r="3.9" fill="#fff"/>
<path d="M264.14,20.70 L264.13,22.70 L264.11,24.71 L264.09,26.71 L264.07,28.72 L264.05,30.72 L264.03,32.73 L264.00,34.73 L263.98,36.73 L263.95,38.74 L263.92,40.74 L263.89,42.75 L263.86,44.75 L263.83,46.75 L263.79,48.76 L263.76,50.76 L263.72,52.77 L263.69,54.77 L263.65,56.78 L263.61,58.78 L263.57,60.78 L263.53,62.79 L263.50,64.79 L263.45,66.80 L263.41,68.80 L263.36,70.81 L263.31,72.81 L263.26,74.81 L263.21,76.82 L263.15,78.82 L263.09,80.83 L263.03,82.83 L262.97,84.83 L262.90,86.84 L262.84,88.84 L262.78,90.85 L262.71,92.85 L262.65,94.86 L262.58,96.86 L262.51,98.86 L262.44,100.87 L262.37,102.87 L262.30,104.88 L262.22,106.88 L262.14,108.88 L262.07,110.89 L261.99,112.89 L261.90,114.90 L261.82,116.90 L261.74,118.91 L261.65,120.91 L261.57,122.91 L261.48,124.92 L261.39,126.92 L261.30,128.93 L261.20,130.93 L261.11,132.94 L261.01,134.94 L260.91,136.94 L260.81,138.95 L260.71,140.95 L260.60,142.96 L260.49,144.96 L260.38,146.96 L260.27,148.97 L260.15,150.97 L260.03,152.98 L259.90,154.98 L259.78,156.99 L259.65,158.99 L259.52,160.99 L259.39,163.00 L259.26,165.00 L259.13,167.01 L259.00,169.01 L258.88,171.02 L258.75,173.02 L258.61,175.02 L258.48,177.03 L258.35,179.03 L258.21,181.04 L258.08,183.04 L257.94,185.04 L257.81,187.05 L257.69,189.05 L257.56,191.06 L257.45,193.06 L257.34,195.07 L257.23,197.07 L257.13,199.07 L257.03,201.08 L256.93,203.08 L256.83,205.09 L256.74,207.09 L256.64,209.09 L256.56,211.10 L256.47,213.10 L256.38,215.11 L256.30,217.11 L256.23,219.12 L256.15,221.12 L256.06,223.12 L255.97,225.13 L255.89,227.13 L255.83,229.14 L255.79,231.14 L255.80,233.15 L255.84,235.15 L255.91,237.15 L256.01,239.16 L256.12,241.16 L256.24,243.17 L256.35,245.17 L256.47,247.17 L256.61,249.18 L256.76,251.18 L256.93,253.19 L257.10,255.19 L257.29,257.20 L257.49,259.20 L271.49,259.20 L271.69,257.20 L271.88,255.19 L272.06,253.19 L272.22,251.18 L272.37,249.18 L272.51,247.17 L272.63,245.17 L272.75,243.17 L272.86,241.16 L272.97,239.16 L273.07,237.15 L273.14,235.15 L273.18,233.15 L273.19,231.14 L273.15,229.14 L273.09,227.13 L273.01,225.13 L272.92,223.12 L272.84,221.12 L272.76,219.12 L272.68,217.11 L272.60,215.11 L272.51,213.10 L272.43,211.10 L272.34,209.09 L272.25,207.09 L272.15,205.09 L272.06,203.08 L271.96,201.08 L271.85,199.07 L271.75,197.07 L271.64,195.07 L271.53,193.06 L271.42,191.06 L271.30,189.05 L271.17,187.05 L271.04,185.04 L270.91,183.04 L270.77,181.04 L270.64,179.03 L270.50,177.03 L270.37,175.02 L270.24,173.02 L270.11,171.02 L269.98,169.01 L269.85,167.01 L269.72,165.00 L269.59,163.00 L269.46,160.99 L269.33,158.99 L269.21,156.99 L269.08,154.98 L268.95,152.98 L268.83,150.97 L268.71,148.97 L268.60,146.96 L268.49,144.96 L268.38,142.96 L268.28,140.95 L268.17,138.95 L268.07,136.94 L267.97,134.94 L267.88,132.94 L267.78,130.93 L267.69,128.93 L267.59,126.92 L267.50,124.92 L267.42,122.91 L267.33,120.91 L267.24,118.91 L267.16,116.90 L267.08,114.90 L267.00,112.89 L266.92,110.89 L266.84,108.88 L266.76,106.88 L266.69,104.88 L266.61,102.87 L266.54,100.87 L266.47,98.86 L266.40,96.86 L266.34,94.86 L266.27,92.85 L266.21,90.85 L266.14,88.84 L266.08,86.84 L266.01,84.83 L265.95,82.83 L265.89,80.83 L265.83,78.82 L265.78,76.82 L265.72,74.81 L265.67,72.81 L265.62,70.81 L265.57,68.80 L265.53,66.80 L265.49,64.79 L265.45,62.79 L265.41,60.78 L265.37,58.78 L265.33,56.78 L265.30,54.77 L265.26,52.77 L265.22,50.76 L265.19,48.76 L265.16,46.75 L265.12,44.75 L265.09,42.75 L265.06,40.74 L265.03,38.74 L265.00,36.73 L264.98,34.73 L264.95,32.73 L264.93,30.72 L264.91,28.72 L264.89,26.71 L264.87,24.71 L264.86,22.70 L264.84,20.70 Z" fill="#F8C9B0" stroke="#000" stroke-width="1.15" stroke-linejoin="round"/>
<line x1="264.49" y1="51.40" x2="264.49" y2="259.20" stroke="#000" stroke-width="1"/>
<rect x="263.29" y="166.30" width="2.4" height="76.30" fill="#000"/>
<circle cx="264.49" cy="212.90" r="3.9" fill="#fff"/>
<path d="M287.10,20.70 L287.10,22.70 L287.10,24.71 L287.10,26.71 L287.09,28.72 L287.09,30.72 L287.09,32.73 L287.09,34.73 L287.09,36.73 L287.09,38.74 L287.09,40.74 L287.09,42.75 L287.09,44.75 L287.08,46.75 L287.08,48.76 L287.08,50.76 L287.08,52.77 L287.08,54.77 L287.07,56.78 L287.07,58.78 L287.07,60.78 L287.07,62.79 L287.06,64.79 L287.06,66.80 L287.06,68.80 L287.05,70.81 L287.05,72.81 L287.05,74.81 L287.04,76.82 L287.04,78.82 L287.04,80.83 L287.03,82.83 L287.03,84.83 L287.02,86.84 L287.02,88.84 L287.02,90.85 L287.01,92.85 L287.01,94.86 L287.00,96.86 L287.00,98.86 L286.99,100.87 L286.99,102.87 L286.98,104.88 L286.97,106.88 L286.97,108.88 L286.96,110.89 L286.95,112.89 L286.93,114.90 L286.92,116.90 L286.90,118.91 L286.89,120.91 L286.86,122.91 L286.82,124.92 L286.78,126.92 L286.73,128.93 L286.67,130.93 L286.61,132.94 L286.54,134.94 L286.46,136.94 L286.39,138.95 L286.31,140.95 L286.23,142.96 L286.15,144.96 L286.06,146.96 L285.97,148.97 L285.87,150.97 L285.76,152.98 L285.64,154.98 L285.52,156.99 L285.40,158.99 L285.27,160.99 L285.13,163.00 L285.00,165.00 L284.86,167.01 L284.72,169.01 L284.57,171.02 L284.43,173.02 L284.27,175.02 L284.11,177.03 L283.95,179.03 L283.78,181.04 L283.61,183.04 L283.43,185.04 L283.25,187.05 L283.07,189.05 L282.88,191.06 L282.68,193.06 L282.49,195.07 L282.28,197.07 L282.06,199.07 L281.83,201.08 L281.58,203.08 L281.33,205.09 L281.08,207.09 L280.83,209.09 L280.59,211.10 L280.35,213.10 L280.12,215.11 L279.91,217.11 L279.72,219.12 L279.55,221.12 L279.36,223.12 L279.17,225.13 L279.00,227.13 L278.87,229.14 L278.80,231.14 L278.80,233.15 L278.80,235.15 L278.81,237.15 L278.82,239.16 L278.84,241.16 L278.87,243.17 L278.95,245.17 L279.07,247.17 L279.20,249.18 L279.31,251.18 L279.44,253.19 L279.57,255.19 L279.70,257.20 L279.85,259.20 L294.65,259.20 L294.79,257.20 L294.93,255.19 L295.06,253.19 L295.18,251.18 L295.29,249.18 L295.42,247.17 L295.54,245.17 L295.62,243.17 L295.65,241.16 L295.67,239.16 L295.68,237.15 L295.69,235.15 L295.70,233.15 L295.69,231.14 L295.62,229.14 L295.49,227.13 L295.32,225.13 L295.13,223.12 L294.94,221.12 L294.77,219.12 L294.58,217.11 L294.37,215.11 L294.14,213.10 L293.91,211.10 L293.66,209.09 L293.41,207.09 L293.16,205.09 L292.91,203.08 L292.67,201.08 L292.43,199.07 L292.21,197.07 L292.00,195.07 L291.81,193.06 L291.62,191.06 L291.43,189.05 L291.24,187.05 L291.06,185.04 L290.88,183.04 L290.71,181.04 L290.54,179.03 L290.38,177.03 L290.22,175.02 L290.07,173.02 L289.92,171.02 L289.78,169.01 L289.64,167.01 L289.50,165.00 L289.36,163.00 L289.22,160.99 L289.09,158.99 L288.97,156.99 L288.85,154.98 L288.73,152.98 L288.62,150.97 L288.52,148.97 L288.43,146.96 L288.34,144.96 L288.26,142.96 L288.18,140.95 L288.11,138.95 L288.03,136.94 L287.96,134.94 L287.89,132.94 L287.82,130.93 L287.76,128.93 L287.71,126.92 L287.67,124.92 L287.63,122.91 L287.60,120.91 L287.59,118.91 L287.57,116.90 L287.56,114.90 L287.55,112.89 L287.54,110.89 L287.53,108.88 L287.52,106.88 L287.51,104.88 L287.50,102.87 L287.50,100.87 L287.49,98.86 L287.49,96.86 L287.48,94.86 L287.48,92.85 L287.48,90.85 L287.47,88.84 L287.47,86.84 L287.46,84.83 L287.46,82.83 L287.46,80.83 L287.45,78.82 L287.45,76.82 L287.45,74.81 L287.44,72.81 L287.44,70.81 L287.44,68.80 L287.43,66.80 L287.43,64.79 L287.43,62.79 L287.42,60.78 L287.42,58.78 L287.42,56.78 L287.42,54.77 L287.41,52.77 L287.41,50.76 L287.41,48.76 L287.41,46.75 L287.41,44.75 L287.40,42.75 L287.40,40.74 L287.40,38.74 L287.40,36.73 L287.40,34.73 L287.40,32.73 L287.40,30.72 L287.40,28.72 L287.40,26.71 L287.40,24.71 L287.40,22.70 L287.40,20.70 Z" fill="#F8C38C" stroke="#000" stroke-width="1.15" stroke-linejoin="round"/>
<line x1="287.25" y1="165.90" x2="287.25" y2="259.20" stroke="#000" stroke-width="1"/>
<rect x="286.05" y="218.50" width="2.4" height="34.30" fill="#000"/>
<circle cx="287.25" cy="238.60" r="3.9" fill="#fff"/>
<path d="M309.85,20.70 L309.85,22.70 L309.85,24.71 L309.85,26.71 L309.85,28.72 L309.85,30.72 L309.85,32.73 L309.84,34.73 L309.84,36.73 L309.84,38.74 L309.84,40.74 L309.83,42.75 L309.83,44.75 L309.83,46.75 L309.82,48.76 L309.82,50.76 L309.81,52.77 L309.81,54.77 L309.80,56.78 L309.80,58.78 L309.79,60.78 L309.79,62.79 L309.78,64.79 L309.78,66.80 L309.77,68.80 L309.77,70.81 L309.76,72.81 L309.75,74.81 L309.74,76.82 L309.74,78.82 L309.73,80.83 L309.72,82.83 L309.71,84.83 L309.71,86.84 L309.70,88.84 L309.69,90.85 L309.68,92.85 L309.67,94.86 L309.66,96.86 L309.66,98.86 L309.65,100.87 L309.63,102.87 L309.62,104.88 L309.61,106.88 L309.59,108.88 L309.57,110.89 L309.54,112.89 L309.52,114.90 L309.49,116.90 L309.47,118.91 L309.44,120.91 L309.40,122.91 L309.36,124.92 L309.31,126.92 L309.26,128.93 L309.20,130.93 L309.14,132.94 L309.08,134.94 L309.01,136.94 L308.94,138.95 L308.86,140.95 L308.78,142.96 L308.70,144.96 L308.61,146.96 L308.52,148.97 L308.41,150.97 L308.29,152.98 L308.17,154.98 L308.04,156.99 L307.90,158.99 L307.76,160.99 L307.62,163.00 L307.47,165.00 L307.32,167.01 L307.17,169.01 L307.03,171.02 L306.87,173.02 L306.72,175.02 L306.56,177.03 L306.39,179.03 L306.22,181.04 L306.05,183.04 L305.87,185.04 L305.69,187.05 L305.51,189.05 L305.32,191.06 L305.14,193.06 L304.94,195.07 L304.75,197.07 L304.54,199.07 L304.32,201.08 L304.09,203.08 L303.86,205.09 L303.63,207.09 L303.40,209.09 L303.17,211.10 L302.95,213.10 L302.73,215.11 L302.52,217.11 L302.33,219.12 L302.14,221.12 L301.94,223.12 L301.73,225.13 L301.54,227.13 L301.39,229.14 L301.31,231.14 L301.30,233.15 L301.31,235.15 L301.33,237.15 L301.36,239.16 L301.39,241.16 L301.43,243.17 L301.51,245.17 L301.62,247.17 L301.75,249.18 L301.88,251.18 L302.03,253.19 L302.20,255.19 L302.39,257.20 L302.60,259.20 L317.40,259.20 L317.61,257.20 L317.80,255.19 L317.97,253.19 L318.12,251.18 L318.25,249.18 L318.38,247.17 L318.49,245.17 L318.57,243.17 L318.61,241.16 L318.64,239.16 L318.67,237.15 L318.69,235.15 L318.70,233.15 L318.69,231.14 L318.61,229.14 L318.46,227.13 L318.27,225.13 L318.06,223.12 L317.86,221.12 L317.67,219.12 L317.48,217.11 L317.27,215.11 L317.05,213.10 L316.83,211.10 L316.60,209.09 L316.37,207.09 L316.14,205.09 L315.91,203.08 L315.68,201.08 L315.47,199.07 L315.26,197.07 L315.06,195.07 L314.87,193.06 L314.68,191.06 L314.49,189.05 L314.31,187.05 L314.13,185.04 L313.95,183.04 L313.78,181.04 L313.61,179.03 L313.45,177.03 L313.28,175.02 L313.13,173.02 L312.98,171.02 L312.83,169.01 L312.68,167.01 L312.53,165.00 L312.39,163.00 L312.24,160.99 L312.10,158.99 L311.96,156.99 L311.83,154.98 L311.71,152.98 L311.59,150.97 L311.48,148.97 L311.39,146.96 L311.30,144.96 L311.22,142.96 L311.14,140.95 L311.06,138.95 L310.99,136.94 L310.92,134.94 L310.86,132.94 L310.80,130.93 L310.74,128.93 L310.69,126.92 L310.64,124.92 L310.60,122.91 L310.56,120.91 L310.53,118.91 L310.51,116.90 L310.48,114.90 L310.46,112.89 L310.43,110.89 L310.41,108.88 L310.40,106.88 L310.38,104.88 L310.37,102.87 L310.35,100.87 L310.35,98.86 L310.34,96.86 L310.33,94.86 L310.32,92.85 L310.31,90.85 L310.30,88.84 L310.29,86.84 L310.29,84.83 L310.28,82.83 L310.27,80.83 L310.26,78.82 L310.26,76.82 L310.25,74.81 L310.24,72.81 L310.24,70.81 L310.23,68.80 L310.22,66.80 L310.22,64.79 L310.21,62.79 L310.21,60.78 L310.20,58.78 L310.20,56.78 L310.19,54.77 L310.19,52.77 L310.18,50.76 L310.18,48.76 L310.17,46.75 L310.17,44.75 L310.17,42.75 L310.17,40.74 L310.16,38.74 L310.16,36.73 L310.16,34.73 L310.16,32.73 L310.15,30.72 L310.15,28.72 L310.15,26.71 L310.15,24.71 L310.15,22.70 L310.15,20.70 Z" fill="#FCE1C6" stroke="#000" stroke-width="1.15" stroke-linejoin="round"/>
<line x1="310.00" y1="159.10" x2="310.00" y2="259.20" stroke="#000" stroke-width="1"/>
<rect x="308.80" y="215.10" width="2.4" height="37.70" fill="#000"/>
<circle cx="310.00" cy="237.50" r="3.9" fill="#fff"/>
<rect x="37.40" y="0.50" width="294.90" height="268.60" fill="none" stroke="#000" stroke-width="1.3"/>
<line x1="32.40" y1="259.20" x2="37.40" y2="259.20" stroke="#000" stroke-width="1.1"/>
<text transform="translate(26.80,258.70) rotate(-90)" text-anchor="middle" class="tk">0</text>
<line x1="32.40" y1="217.75" x2="37.40" y2="217.75" stroke="#000" stroke-width="1.1"/>
<text transform="translate(26.80,217.30) rotate(-90)" text-anchor="middle" class="tk">20</text>
<line x1="32.40" y1="176.30" x2="37.40" y2="176.30" stroke="#000" stroke-width="1.1"/>
<text transform="translate(26.80,175.45) rotate(-90)" text-anchor="middle" class="tk">40</text>
<line x1="32.40" y1="134.85" x2="37.40" y2="134.85" stroke="#000" stroke-width="1.1"/>
<text transform="translate(26.80,134.05) rotate(-90)" text-anchor="middle" class="tk">60</text>
<line x1="32.40" y1="93.40" x2="37.40" y2="93.40" stroke="#000" stroke-width="1.1"/>
<text transform="translate(26.80,92.25) rotate(-90)" text-anchor="middle" class="tk">80</text>
<line x1="32.40" y1="51.95" x2="37.40" y2="51.95" stroke="#000" stroke-width="1.1"/>
<text transform="translate(26.80,50.10) rotate(-90)" text-anchor="middle" class="tk">100</text>
<line x1="32.40" y1="10.50" x2="37.40" y2="10.50" stroke="#000" stroke-width="1.1"/>
<text transform="translate(26.80,8.90) rotate(-90)" text-anchor="middle" class="tk">120</text>
<line x1="428.83" y1="0.50" x2="428.83" y2="269.10" stroke="#BEBEBE" stroke-width="2"/>
<line x1="474.34" y1="0.50" x2="474.34" y2="269.10" stroke="#BEBEBE" stroke-width="2"/>
<line x1="519.85" y1="0.50" x2="519.85" y2="269.10" stroke="#BEBEBE" stroke-width="2"/>
<line x1="565.36" y1="0.50" x2="565.36" y2="269.10" stroke="#BEBEBE" stroke-width="2"/>
<line x1="610.87" y1="0.50" x2="610.87" y2="269.10" stroke="#BEBEBE" stroke-width="2"/>
<line x1="656.38" y1="0.50" x2="656.38" y2="269.10" stroke="#BEBEBE" stroke-width="2"/>
<path d="M394.40,23.10 L394.39,25.08 L394.38,27.07 L394.37,29.05 L394.36,31.04 L394.35,33.02 L394.34,35.00 L394.32,36.99 L394.31,38.97 L394.29,40.96 L394.27,42.94 L394.25,44.92 L394.24,46.91 L394.22,48.89 L394.20,50.88 L394.18,52.86 L394.16,54.84 L394.13,56.83 L394.11,58.81 L394.09,60.80 L394.07,62.78 L394.04,64.76 L394.02,66.75 L393.99,68.73 L393.96,70.72 L393.93,72.70 L393.90,74.68 L393.86,76.67 L393.83,78.65 L393.79,80.64 L393.75,82.62 L393.71,84.61 L393.66,86.59 L393.61,88.57 L393.55,90.56 L393.48,92.54 L393.42,94.53 L393.34,96.51 L393.27,98.49 L393.19,100.48 L393.12,102.46 L393.04,104.45 L392.97,106.43 L392.90,108.41 L392.84,110.40 L392.78,112.38 L392.72,114.37 L392.67,116.35 L392.62,118.33 L392.56,120.32 L392.51,122.30 L392.46,124.29 L392.40,126.27 L392.34,128.25 L392.28,130.24 L392.21,132.22 L392.13,134.21 L392.05,136.19 L391.94,138.17 L391.83,140.16 L391.70,142.14 L391.57,144.13 L391.42,146.11 L391.27,148.09 L391.11,150.08 L390.95,152.06 L390.78,154.05 L390.62,156.03 L390.46,158.01 L390.30,160.00 L390.14,161.98 L389.99,163.97 L389.83,165.95 L389.67,167.93 L389.50,169.92 L389.34,171.90 L389.17,173.89 L389.00,175.87 L388.82,177.85 L388.64,179.84 L388.46,181.82 L388.27,183.81 L388.07,185.79 L387.84,187.77 L387.61,189.76 L387.37,191.74 L387.16,193.73 L386.99,195.71 L386.83,197.69 L386.68,199.68 L386.54,201.66 L386.42,203.65 L386.34,205.63 L386.29,207.62 L386.25,209.60 L386.22,211.58 L386.20,213.57 L386.20,215.55 L386.23,217.54 L386.30,219.52 L386.37,221.50 L386.45,223.49 L386.51,225.47 L386.56,227.46 L386.61,229.44 L386.65,231.42 L386.70,233.41 L386.75,235.39 L386.80,237.38 L386.87,239.36 L386.97,241.34 L387.10,243.33 L387.27,245.31 L387.45,247.30 L387.64,249.28 L387.81,251.26 L388.00,253.25 L388.19,255.23 L388.39,257.22 L388.60,259.20 L400.80,259.20 L401.01,257.22 L401.21,255.23 L401.40,253.25 L401.59,251.26 L401.76,249.28 L401.95,247.30 L402.13,245.31 L402.30,243.33 L402.43,241.34 L402.53,239.36 L402.60,237.38 L402.65,235.39 L402.70,233.41 L402.75,231.42 L402.79,229.44 L402.84,227.46 L402.89,225.47 L402.95,223.49 L403.03,221.50 L403.10,219.52 L403.17,217.54 L403.20,215.55 L403.20,213.57 L403.18,211.58 L403.15,209.60 L403.11,207.62 L403.06,205.63 L402.98,203.65 L402.86,201.66 L402.72,199.68 L402.57,197.69 L402.41,195.71 L402.24,193.73 L402.03,191.74 L401.79,189.76 L401.55,187.77 L401.33,185.79 L401.13,183.81 L400.94,181.82 L400.76,179.84 L400.58,177.85 L400.40,175.87 L400.23,173.89 L400.06,171.90 L399.90,169.92 L399.73,167.93 L399.57,165.95 L399.41,163.97 L399.26,161.98 L399.10,160.00 L398.94,158.01 L398.78,156.03 L398.62,154.05 L398.45,152.06 L398.29,150.08 L398.13,148.09 L397.98,146.11 L397.83,144.13 L397.70,142.14 L397.57,140.16 L397.45,138.17 L397.35,136.19 L397.27,134.21 L397.19,132.22 L397.12,130.24 L397.06,128.25 L397.00,126.27 L396.94,124.29 L396.89,122.30 L396.83,120.32 L396.78,118.33 L396.73,116.35 L396.68,114.37 L396.62,112.38 L396.56,110.40 L396.50,108.41 L396.43,106.43 L396.36,104.45 L396.28,102.46 L396.21,100.48 L396.13,98.49 L396.06,96.51 L395.98,94.53 L395.91,92.54 L395.85,90.56 L395.79,88.57 L395.74,86.59 L395.69,84.61 L395.65,82.62 L395.61,80.64 L395.57,78.65 L395.54,76.67 L395.50,74.68 L395.47,72.70 L395.44,70.72 L395.41,68.73 L395.38,66.75 L395.36,64.76 L395.33,62.78 L395.31,60.80 L395.29,58.81 L395.26,56.83 L395.24,54.84 L395.22,52.86 L395.20,50.88 L395.18,48.89 L395.16,46.91 L395.14,44.92 L395.13,42.94 L395.11,40.96 L395.09,38.97 L395.08,36.99 L395.06,35.00 L395.05,33.02 L395.04,31.04 L395.03,29.05 L395.02,27.07 L395.01,25.08 L395.00,23.10 Z" fill="#821B68" stroke="#000" stroke-width="1.15" stroke-linejoin="round"/>
<line x1="394.70" y1="103.10" x2="394.70" y2="259.20" stroke="#000" stroke-width="1"/>
<rect x="393.50" y="185.60" width="2.4" height="55.00" fill="#000"/>
<circle cx="394.70" cy="212.50" r="3.9" fill="#fff"/>
<path d="M417.15,23.60 L417.14,25.58 L417.13,27.56 L417.12,29.54 L417.10,31.52 L417.08,33.50 L417.06,35.48 L417.04,37.46 L417.02,39.44 L416.99,41.42 L416.97,43.40 L416.94,45.38 L416.91,47.36 L416.88,49.34 L416.85,51.32 L416.82,53.30 L416.78,55.28 L416.75,57.26 L416.72,59.24 L416.68,61.22 L416.64,63.20 L416.60,65.18 L416.56,67.16 L416.51,69.14 L416.46,71.12 L416.41,73.10 L416.35,75.08 L416.30,77.06 L416.24,79.04 L416.18,81.02 L416.12,82.99 L416.05,84.97 L415.99,86.95 L415.92,88.93 L415.85,90.91 L415.77,92.89 L415.69,94.87 L415.60,96.85 L415.52,98.83 L415.44,100.81 L415.35,102.79 L415.27,104.77 L415.18,106.75 L415.10,108.73 L415.03,110.71 L414.95,112.69 L414.88,114.67 L414.82,116.65 L414.75,118.63 L414.69,120.61 L414.62,122.59 L414.55,124.57 L414.48,126.55 L414.40,128.53 L414.32,130.51 L414.23,132.49 L414.13,134.47 L414.02,136.45 L413.89,138.43 L413.73,140.41 L413.56,142.39 L413.38,144.37 L413.19,146.35 L413.00,148.33 L412.80,150.31 L412.61,152.29 L412.42,154.27 L412.25,156.25 L412.08,158.23 L411.94,160.21 L411.81,162.19 L411.69,164.17 L411.58,166.15 L411.47,168.13 L411.37,170.11 L411.27,172.09 L411.17,174.07 L411.06,176.05 L410.95,178.03 L410.84,180.01 L410.71,181.99 L410.58,183.97 L410.43,185.95 L410.23,187.93 L410.02,189.91 L409.81,191.89 L409.63,193.87 L409.50,195.85 L409.39,197.83 L409.28,199.81 L409.18,201.78 L409.11,203.76 L409.06,205.74 L409.06,207.72 L409.07,209.70 L409.11,211.68 L409.15,213.66 L409.21,215.64 L409.27,217.62 L409.32,219.60 L409.38,221.58 L409.43,223.56 L409.46,225.54 L409.49,227.52 L409.51,229.50 L409.53,231.48 L409.55,233.46 L409.57,235.44 L409.60,237.42 L409.64,239.40 L409.70,241.38 L409.80,243.36 L409.94,245.34 L410.09,247.32 L410.25,249.30 L410.40,251.28 L410.56,253.26 L410.73,255.24 L410.92,257.22 L411.10,259.20 L423.80,259.20 L423.99,257.22 L424.17,255.24 L424.35,253.26 L424.51,251.28 L424.66,249.30 L424.81,247.32 L424.97,245.34 L425.10,243.36 L425.21,241.38 L425.27,239.40 L425.30,237.42 L425.33,235.44 L425.36,233.46 L425.38,231.48 L425.40,229.50 L425.42,227.52 L425.45,225.54 L425.48,223.56 L425.53,221.58 L425.58,219.60 L425.64,217.62 L425.70,215.64 L425.76,213.66 L425.80,211.68 L425.84,209.70 L425.85,207.72 L425.85,205.74 L425.80,203.76 L425.73,201.78 L425.63,199.81 L425.52,197.83 L425.40,195.85 L425.28,193.87 L425.10,191.89 L424.89,189.91 L424.67,187.93 L424.48,185.95 L424.33,183.97 L424.19,181.99 L424.07,180.01 L423.96,178.03 L423.85,176.05 L423.74,174.07 L423.64,172.09 L423.54,170.11 L423.44,168.13 L423.33,166.15 L423.22,164.17 L423.10,162.19 L422.97,160.21 L422.82,158.23 L422.66,156.25 L422.48,154.27 L422.30,152.29 L422.10,150.31 L421.91,148.33 L421.71,146.35 L421.52,144.37 L421.34,142.39 L421.17,140.41 L421.02,138.43 L420.89,136.45 L420.78,134.47 L420.68,132.49 L420.59,130.51 L420.51,128.53 L420.43,126.55 L420.36,124.57 L420.29,122.59 L420.22,120.61 L420.16,118.63 L420.09,116.65 L420.02,114.67 L419.95,112.69 L419.88,110.71 L419.80,108.73 L419.72,106.75 L419.64,104.77 L419.56,102.79 L419.47,100.81 L419.39,98.83 L419.30,96.85 L419.22,94.87 L419.14,92.89 L419.06,90.91 L418.99,88.93 L418.92,86.95 L418.85,84.97 L418.79,82.99 L418.73,81.02 L418.67,79.04 L418.61,77.06 L418.56,75.08 L418.50,73.10 L418.45,71.12 L418.40,69.14 L418.35,67.16 L418.31,65.18 L418.26,63.20 L418.23,61.22 L418.19,59.24 L418.16,57.26 L418.12,55.28 L418.09,53.30 L418.06,51.32 L418.03,49.34 L418.00,47.36 L417.97,45.38 L417.94,43.40 L417.92,41.42 L417.89,39.44 L417.87,37.46 L417.84,35.48 L417.82,33.50 L417.81,31.52 L417.79,29.54 L417.78,27.56 L417.76,25.58 L417.75,23.60 Z" fill="#C08DB4" stroke="#000" stroke-width="1.15" stroke-linejoin="round"/>
<line x1="417.45" y1="80.10" x2="417.45" y2="259.20" stroke="#000" stroke-width="1"/>
<rect x="416.25" y="176.30" width="2.4" height="64.10" fill="#000"/>
<circle cx="417.45" cy="209.90" r="3.9" fill="#fff"/>
<path d="M439.91,21.90 L439.91,23.89 L439.90,25.89 L439.90,27.88 L439.89,29.88 L439.88,31.87 L439.87,33.86 L439.87,35.86 L439.86,37.85 L439.85,39.85 L439.83,41.84 L439.82,43.84 L439.81,45.83 L439.80,47.82 L439.78,49.82 L439.77,51.81 L439.75,53.81 L439.74,55.80 L439.73,57.79 L439.71,59.79 L439.70,61.78 L439.68,63.78 L439.66,65.77 L439.64,67.76 L439.62,69.76 L439.60,71.75 L439.58,73.75 L439.55,75.74 L439.53,77.74 L439.50,79.73 L439.47,81.72 L439.43,83.72 L439.39,85.71 L439.34,87.71 L439.28,89.70 L439.21,91.69 L439.15,93.69 L439.09,95.68 L439.04,97.68 L438.98,99.67 L438.93,101.66 L438.88,103.66 L438.84,105.65 L438.79,107.65 L438.74,109.64 L438.69,111.64 L438.64,113.63 L438.58,115.62 L438.53,117.62 L438.47,119.61 L438.41,121.61 L438.35,123.60 L438.28,125.59 L438.22,127.59 L438.15,129.58 L438.08,131.58 L438.01,133.57 L437.93,135.56 L437.86,137.56 L437.78,139.55 L437.70,141.55 L437.62,143.54 L437.54,145.54 L437.45,147.53 L437.37,149.52 L437.28,151.52 L437.20,153.51 L437.11,155.51 L437.01,157.50 L436.92,159.49 L436.81,161.49 L436.71,163.48 L436.59,165.48 L436.47,167.47 L436.34,169.46 L436.20,171.46 L436.04,173.45 L435.85,175.45 L435.64,177.44 L435.43,179.44 L435.21,181.43 L434.98,183.42 L434.77,185.42 L434.56,187.41 L434.36,189.41 L434.18,191.40 L434.01,193.39 L433.83,195.39 L433.66,197.38 L433.49,199.38 L433.33,201.37 L433.18,203.36 L433.03,205.36 L432.88,207.35 L432.74,209.35 L432.59,211.34 L432.45,213.34 L432.31,215.33 L432.18,217.32 L432.06,219.32 L431.95,221.31 L431.87,223.31 L431.80,225.30 L431.74,227.29 L431.69,229.29 L431.65,231.28 L431.62,233.28 L431.61,235.27 L431.69,237.26 L431.81,239.26 L431.93,241.25 L432.04,243.25 L432.16,245.24 L432.29,247.24 L432.41,249.23 L432.54,251.22 L432.66,253.22 L432.79,255.21 L432.92,257.21 L433.06,259.20 L447.36,259.20 L447.49,257.21 L447.62,255.21 L447.75,253.22 L447.88,251.22 L448.01,249.23 L448.13,247.24 L448.25,245.24 L448.37,243.25 L448.49,241.25 L448.60,239.26 L448.73,237.26 L448.81,235.27 L448.80,233.28 L448.77,231.28 L448.73,229.29 L448.67,227.29 L448.62,225.30 L448.55,223.31 L448.46,221.31 L448.36,219.32 L448.24,217.32 L448.11,215.33 L447.97,213.34 L447.82,211.34 L447.68,209.35 L447.53,207.35 L447.39,205.36 L447.24,203.36 L447.09,201.37 L446.92,199.38 L446.76,197.38 L446.59,195.39 L446.41,193.39 L446.23,191.40 L446.05,189.41 L445.86,187.41 L445.65,185.42 L445.43,183.42 L445.21,181.43 L444.99,179.44 L444.77,177.44 L444.57,175.45 L444.38,173.45 L444.21,171.46 L444.07,169.46 L443.94,167.47 L443.82,165.48 L443.71,163.48 L443.60,161.49 L443.50,159.49 L443.40,157.50 L443.31,155.51 L443.22,153.51 L443.13,151.52 L443.05,149.52 L442.96,147.53 L442.88,145.54 L442.80,143.54 L442.72,141.55 L442.64,139.55 L442.56,137.56 L442.48,135.56 L442.41,133.57 L442.34,131.58 L442.27,129.58 L442.20,127.59 L442.13,125.59 L442.07,123.60 L442.01,121.61 L441.95,119.61 L441.89,117.62 L441.83,115.62 L441.78,113.63 L441.73,111.64 L441.68,109.64 L441.63,107.65 L441.58,105.65 L441.53,103.66 L441.48,101.66 L441.43,99.67 L441.38,97.68 L441.33,95.68 L441.27,93.69 L441.20,91.69 L441.14,89.70 L441.07,87.71 L441.02,85.71 L440.99,83.72 L440.95,81.72 L440.92,79.73 L440.89,77.74 L440.87,75.74 L440.84,73.75 L440.82,71.75 L440.80,69.76 L440.77,67.76 L440.76,65.77 L440.74,63.78 L440.72,61.78 L440.71,59.79 L440.69,57.79 L440.68,55.80 L440.66,53.81 L440.65,51.81 L440.63,49.82 L440.62,47.82 L440.61,45.83 L440.60,43.84 L440.58,41.84 L440.57,39.85 L440.56,37.85 L440.55,35.86 L440.54,33.86 L440.53,31.87 L440.53,29.88 L440.52,27.88 L440.52,25.89 L440.51,23.89 L440.51,21.90 Z" fill="#AF2562" stroke="#000" stroke-width="1.15" stroke-linejoin="round"/>
<line x1="440.21" y1="108.50" x2="440.21" y2="259.20" stroke="#000" stroke-width="1"/>
<rect x="439.01" y="192.80" width="2.4" height="55.70" fill="#000"/>
<circle cx="440.21" cy="230.70" r="3.9" fill="#fff"/>
<path d="M462.66,21.40 L462.66,23.40 L462.66,25.40 L462.65,27.39 L462.65,29.39 L462.64,31.39 L462.63,33.39 L462.63,35.39 L462.62,37.39 L462.61,39.38 L462.60,41.38 L462.60,43.38 L462.59,45.38 L462.58,47.38 L462.57,49.38 L462.56,51.37 L462.55,53.37 L462.54,55.37 L462.53,57.37 L462.52,59.37 L462.51,61.37 L462.49,63.36 L462.48,65.36 L462.47,67.36 L462.46,69.36 L462.44,71.36 L462.43,73.36 L462.41,75.35 L462.39,77.35 L462.38,79.35 L462.35,81.35 L462.33,83.35 L462.31,85.35 L462.28,87.34 L462.24,89.34 L462.20,91.34 L462.15,93.34 L462.11,95.34 L462.06,97.34 L462.01,99.33 L461.96,101.33 L461.91,103.33 L461.85,105.33 L461.80,107.33 L461.74,109.33 L461.68,111.32 L461.62,113.32 L461.56,115.32 L461.50,117.32 L461.43,119.32 L461.37,121.32 L461.31,123.31 L461.24,125.31 L461.17,127.31 L461.10,129.31 L461.03,131.31 L460.96,133.31 L460.88,135.30 L460.81,137.30 L460.73,139.30 L460.66,141.30 L460.58,143.30 L460.50,145.30 L460.42,147.29 L460.35,149.29 L460.27,151.29 L460.19,153.29 L460.11,155.29 L460.03,157.29 L459.94,159.28 L459.86,161.28 L459.77,163.28 L459.68,165.28 L459.59,167.28 L459.50,169.28 L459.40,171.27 L459.31,173.27 L459.21,175.27 L459.11,177.27 L459.01,179.27 L458.90,181.27 L458.79,183.26 L458.67,185.26 L458.55,187.26 L458.42,189.26 L458.27,191.26 L458.10,193.26 L457.91,195.25 L457.71,197.25 L457.50,199.25 L457.29,201.25 L457.08,203.25 L456.88,205.25 L456.69,207.24 L456.51,209.24 L456.32,211.24 L456.13,213.24 L455.94,215.24 L455.76,217.24 L455.59,219.23 L455.43,221.23 L455.28,223.23 L455.15,225.23 L455.02,227.23 L454.88,229.23 L454.77,231.22 L454.69,233.22 L454.66,235.22 L454.67,237.22 L454.68,239.22 L454.71,241.22 L454.73,243.21 L454.77,245.21 L454.83,247.21 L454.92,249.21 L455.02,251.21 L455.12,253.21 L455.23,255.20 L455.34,257.20 L455.46,259.20 L470.46,259.20 L470.58,257.20 L470.70,255.20 L470.80,253.21 L470.90,251.21 L471.01,249.21 L471.10,247.21 L471.16,245.21 L471.19,243.21 L471.22,241.22 L471.24,239.22 L471.26,237.22 L471.26,235.22 L471.24,233.22 L471.16,231.22 L471.04,229.23 L470.91,227.23 L470.78,225.23 L470.65,223.23 L470.50,221.23 L470.34,219.23 L470.17,217.24 L469.99,215.24 L469.80,213.24 L469.61,211.24 L469.42,209.24 L469.24,207.24 L469.05,205.25 L468.85,203.25 L468.64,201.25 L468.42,199.25 L468.21,197.25 L468.01,195.25 L467.83,193.26 L467.66,191.26 L467.51,189.26 L467.38,187.26 L467.25,185.26 L467.14,183.26 L467.02,181.27 L466.92,179.27 L466.82,177.27 L466.72,175.27 L466.62,173.27 L466.52,171.27 L466.43,169.28 L466.34,167.28 L466.24,165.28 L466.16,163.28 L466.07,161.28 L465.98,159.28 L465.90,157.29 L465.82,155.29 L465.74,153.29 L465.66,151.29 L465.58,149.29 L465.50,147.29 L465.42,145.30 L465.35,143.30 L465.27,141.30 L465.19,139.30 L465.12,137.30 L465.04,135.30 L464.97,133.31 L464.90,131.31 L464.83,129.31 L464.76,127.31 L464.69,125.31 L464.62,123.31 L464.56,121.32 L464.49,119.32 L464.43,117.32 L464.37,115.32 L464.31,113.32 L464.25,111.32 L464.19,109.33 L464.13,107.33 L464.08,105.33 L464.02,103.33 L463.97,101.33 L463.92,99.33 L463.87,97.34 L463.82,95.34 L463.78,93.34 L463.73,91.34 L463.69,89.34 L463.65,87.34 L463.62,85.35 L463.59,83.35 L463.57,81.35 L463.55,79.35 L463.53,77.35 L463.52,75.35 L463.50,73.36 L463.48,71.36 L463.47,69.36 L463.46,67.36 L463.44,65.36 L463.43,63.36 L463.42,61.37 L463.41,59.37 L463.40,57.37 L463.39,55.37 L463.38,53.37 L463.37,51.37 L463.36,49.38 L463.35,47.38 L463.34,45.38 L463.33,43.38 L463.32,41.38 L463.31,39.38 L463.31,37.39 L463.30,35.39 L463.29,33.39 L463.29,31.39 L463.28,29.39 L463.27,27.39 L463.27,25.40 L463.27,23.40 L463.26,21.40 Z" fill="#D792B0" stroke="#000" stroke-width="1.15" stroke-linejoin="round"/>
<line x1="462.96" y1="125.70" x2="462.96" y2="259.20" stroke="#000" stroke-width="1"/>
<rect x="461.76" y="200.00" width="2.4" height="49.60" fill="#000"/>
<circle cx="462.96" cy="236.70" r="3.9" fill="#fff"/>
<path d="M485.42,21.40 L485.42,23.40 L485.42,25.40 L485.42,27.39 L485.42,29.39 L485.41,31.39 L485.41,33.39 L485.41,35.39 L485.41,37.39 L485.40,39.38 L485.40,41.38 L485.40,43.38 L485.39,45.38 L485.39,47.38 L485.38,49.38 L485.38,51.37 L485.37,53.37 L485.37,55.37 L485.36,57.37 L485.35,59.37 L485.35,61.37 L485.34,63.36 L485.33,65.36 L485.32,67.36 L485.31,69.36 L485.30,71.36 L485.29,73.36 L485.28,75.35 L485.27,77.35 L485.26,79.35 L485.24,81.35 L485.23,83.35 L485.22,85.35 L485.18,87.34 L485.12,89.34 L485.04,91.34 L484.97,93.34 L484.91,95.34 L484.86,97.34 L484.81,99.33 L484.77,101.33 L484.73,103.33 L484.69,105.33 L484.65,107.33 L484.61,109.33 L484.57,111.32 L484.53,113.32 L484.48,115.32 L484.44,117.32 L484.39,119.32 L484.33,121.32 L484.28,123.31 L484.22,125.31 L484.16,127.31 L484.10,129.31 L484.03,131.31 L483.97,133.31 L483.90,135.30 L483.82,137.30 L483.75,139.30 L483.67,141.30 L483.59,143.30 L483.51,145.30 L483.42,147.29 L483.32,149.29 L483.22,151.29 L483.12,153.29 L483.01,155.29 L482.90,157.29 L482.78,159.28 L482.66,161.28 L482.53,163.28 L482.40,165.28 L482.26,167.28 L482.12,169.28 L481.97,171.27 L481.81,173.27 L481.63,175.27 L481.45,177.27 L481.25,179.27 L481.05,181.27 L480.84,183.26 L480.64,185.26 L480.44,187.26 L480.24,189.26 L480.05,191.26 L479.85,193.26 L479.65,195.25 L479.45,197.25 L479.25,199.25 L479.06,201.25 L478.86,203.25 L478.68,205.25 L478.50,207.24 L478.30,209.24 L478.10,211.24 L477.88,213.24 L477.67,215.24 L477.48,217.24 L477.31,219.23 L477.18,221.23 L477.09,223.23 L477.07,225.23 L477.07,227.23 L477.07,229.23 L477.08,231.22 L477.08,233.22 L477.09,235.22 L477.10,237.22 L477.11,239.22 L477.15,241.22 L477.27,243.21 L477.47,245.21 L477.69,247.21 L477.90,249.21 L478.07,251.21 L478.24,253.21 L478.42,255.20 L478.59,257.20 L478.77,259.20 L492.67,259.20 L492.84,257.20 L493.02,255.20 L493.19,253.21 L493.36,251.21 L493.54,249.21 L493.75,247.21 L493.97,245.21 L494.16,243.21 L494.29,241.22 L494.32,239.22 L494.34,237.22 L494.35,235.22 L494.35,233.22 L494.36,231.22 L494.36,229.23 L494.37,227.23 L494.37,225.23 L494.34,223.23 L494.26,221.23 L494.13,219.23 L493.96,217.24 L493.76,215.24 L493.55,213.24 L493.34,211.24 L493.13,209.24 L492.94,207.24 L492.76,205.25 L492.57,203.25 L492.38,201.25 L492.18,199.25 L491.99,197.25 L491.79,195.25 L491.59,193.26 L491.39,191.26 L491.20,189.26 L491.00,187.26 L490.80,185.26 L490.59,183.26 L490.39,181.27 L490.19,179.27 L489.99,177.27 L489.80,175.27 L489.63,173.27 L489.46,171.27 L489.32,169.28 L489.17,167.28 L489.04,165.28 L488.91,163.28 L488.78,161.28 L488.66,159.28 L488.54,157.29 L488.42,155.29 L488.32,153.29 L488.21,151.29 L488.11,149.29 L488.02,147.29 L487.93,145.30 L487.85,143.30 L487.77,141.30 L487.69,139.30 L487.61,137.30 L487.54,135.30 L487.47,133.31 L487.40,131.31 L487.34,129.31 L487.28,127.31 L487.22,125.31 L487.16,123.31 L487.10,121.32 L487.05,119.32 L487.00,117.32 L486.95,115.32 L486.91,113.32 L486.87,111.32 L486.83,109.33 L486.79,107.33 L486.75,105.33 L486.71,103.33 L486.67,101.33 L486.62,99.33 L486.58,97.34 L486.53,95.34 L486.47,93.34 L486.39,91.34 L486.32,89.34 L486.26,87.34 L486.22,85.35 L486.21,83.35 L486.19,81.35 L486.18,79.35 L486.17,77.35 L486.16,75.35 L486.15,73.36 L486.13,71.36 L486.12,69.36 L486.12,67.36 L486.11,65.36 L486.10,63.36 L486.09,61.37 L486.08,59.37 L486.07,57.37 L486.07,55.37 L486.06,53.37 L486.06,51.37 L486.05,49.38 L486.05,47.38 L486.04,45.38 L486.04,43.38 L486.03,41.38 L486.03,39.38 L486.03,37.39 L486.03,35.39 L486.02,33.39 L486.02,31.39 L486.02,29.39 L486.02,27.39 L486.02,25.40 L486.02,23.40 L486.02,21.40 Z" fill="#D54259" stroke="#000" stroke-width="1.15" stroke-linejoin="round"/>
<line x1="485.72" y1="132.80" x2="485.72" y2="259.20" stroke="#000" stroke-width="1"/>
<rect x="484.52" y="200.00" width="2.4" height="45.60" fill="#000"/>
<circle cx="485.72" cy="232.10" r="3.9" fill="#fff"/>
<path d="M508.17,22.40 L508.17,24.39 L508.17,26.38 L508.17,28.37 L508.17,30.36 L508.17,32.35 L508.17,34.34 L508.17,36.33 L508.16,38.32 L508.16,40.31 L508.16,42.30 L508.16,44.29 L508.15,46.28 L508.15,48.27 L508.15,50.26 L508.14,52.25 L508.14,54.24 L508.13,56.23 L508.13,58.22 L508.12,60.21 L508.12,62.20 L508.11,64.19 L508.10,66.18 L508.10,68.17 L508.09,70.16 L508.08,72.15 L508.07,74.14 L508.07,76.13 L508.06,78.12 L508.05,80.11 L508.04,82.10 L508.03,84.09 L508.01,86.08 L507.98,88.07 L507.94,90.06 L507.89,92.05 L507.84,94.04 L507.81,96.03 L507.78,98.02 L507.75,100.01 L507.72,102.00 L507.70,103.99 L507.67,105.98 L507.65,107.97 L507.63,109.96 L507.60,111.95 L507.57,113.94 L507.54,115.93 L507.51,117.92 L507.47,119.91 L507.43,121.90 L507.38,123.89 L507.33,125.88 L507.27,127.87 L507.21,129.86 L507.14,131.85 L507.07,133.84 L506.99,135.83 L506.91,137.82 L506.83,139.81 L506.75,141.79 L506.67,143.78 L506.59,145.77 L506.51,147.76 L506.43,149.75 L506.34,151.74 L506.25,153.73 L506.16,155.72 L506.06,157.71 L505.96,159.70 L505.85,161.69 L505.74,163.68 L505.62,165.67 L505.49,167.66 L505.35,169.65 L505.19,171.64 L504.99,173.63 L504.76,175.62 L504.50,177.61 L504.24,179.60 L503.96,181.59 L503.69,183.58 L503.43,185.57 L503.18,187.56 L502.97,189.55 L502.78,191.54 L502.60,193.53 L502.43,195.52 L502.27,197.51 L502.12,199.50 L501.96,201.49 L501.81,203.48 L501.65,205.47 L501.48,207.46 L501.30,209.45 L501.10,211.44 L500.89,213.43 L500.69,215.42 L500.49,217.41 L500.31,219.40 L500.16,221.39 L500.04,223.38 L499.96,225.37 L499.90,227.36 L499.84,229.35 L499.79,231.34 L499.75,233.33 L499.71,235.32 L499.69,237.31 L499.67,239.30 L499.70,241.29 L499.81,243.28 L499.99,245.27 L500.20,247.26 L500.40,249.25 L500.58,251.24 L500.77,253.23 L500.96,255.22 L501.16,257.21 L501.37,259.20 L515.57,259.20 L515.78,257.21 L515.98,255.22 L516.18,253.23 L516.36,251.24 L516.54,249.25 L516.75,247.26 L516.96,245.27 L517.13,243.28 L517.25,241.29 L517.27,239.30 L517.26,237.31 L517.24,235.32 L517.20,233.33 L517.16,231.34 L517.10,229.35 L517.05,227.36 L516.98,225.37 L516.91,223.38 L516.79,221.39 L516.63,219.40 L516.45,217.41 L516.26,215.42 L516.05,213.43 L515.85,211.44 L515.65,209.45 L515.46,207.46 L515.30,205.47 L515.14,203.48 L514.98,201.49 L514.83,199.50 L514.67,197.51 L514.51,195.52 L514.35,193.53 L514.17,191.54 L513.98,189.55 L513.76,187.56 L513.52,185.57 L513.26,183.58 L512.98,181.59 L512.71,179.60 L512.44,177.61 L512.19,175.62 L511.96,173.63 L511.76,171.64 L511.60,169.65 L511.46,167.66 L511.33,165.67 L511.20,163.68 L511.09,161.69 L510.98,159.70 L510.88,157.71 L510.79,155.72 L510.69,153.73 L510.61,151.74 L510.52,149.75 L510.44,147.76 L510.35,145.77 L510.27,143.78 L510.19,141.79 L510.11,139.81 L510.03,137.82 L509.95,135.83 L509.88,133.84 L509.81,131.85 L509.74,129.86 L509.68,127.87 L509.62,125.88 L509.56,123.89 L509.51,121.90 L509.47,119.91 L509.43,117.92 L509.40,115.93 L509.37,113.94 L509.34,111.95 L509.32,109.96 L509.29,107.97 L509.27,105.98 L509.25,103.99 L509.22,102.00 L509.20,100.01 L509.17,98.02 L509.14,96.03 L509.10,94.04 L509.06,92.05 L509.01,90.06 L508.96,88.07 L508.93,86.08 L508.92,84.09 L508.91,82.10 L508.90,80.11 L508.89,78.12 L508.88,76.13 L508.87,74.14 L508.86,72.15 L508.86,70.16 L508.85,68.17 L508.84,66.18 L508.83,64.19 L508.83,62.20 L508.82,60.21 L508.82,58.22 L508.81,56.23 L508.81,54.24 L508.80,52.25 L508.80,50.26 L508.80,48.27 L508.79,46.28 L508.79,44.29 L508.79,42.30 L508.78,40.31 L508.78,38.32 L508.78,36.33 L508.78,34.34 L508.78,32.35 L508.77,30.36 L508.77,28.37 L508.77,26.38 L508.77,24.39 L508.77,22.40 Z" fill="#EAA0AC" stroke="#000" stroke-width="1.15" stroke-linejoin="round"/>
<line x1="508.47" y1="144.20" x2="508.47" y2="259.20" stroke="#000" stroke-width="1"/>
<rect x="507.27" y="204.20" width="2.4" height="41.10" fill="#000"/>
<circle cx="508.47" cy="232.80" r="3.9" fill="#fff"/>
<path d="M530.93,20.70 L530.93,22.70 L530.92,24.71 L530.92,26.71 L530.91,28.72 L530.91,30.72 L530.90,32.73 L530.89,34.73 L530.88,36.73 L530.87,38.74 L530.85,40.74 L530.84,42.75 L530.82,44.75 L530.80,46.75 L530.78,48.76 L530.77,50.76 L530.75,52.77 L530.72,54.77 L530.70,56.78 L530.68,58.78 L530.66,60.78 L530.63,62.79 L530.61,64.79 L530.58,66.80 L530.55,68.80 L530.53,70.81 L530.50,72.81 L530.47,74.81 L530.44,76.82 L530.42,78.82 L530.39,80.83 L530.36,82.83 L530.33,84.83 L530.30,86.84 L530.26,88.84 L530.22,90.85 L530.18,92.85 L530.13,94.86 L530.09,96.86 L530.03,98.86 L529.98,100.87 L529.92,102.87 L529.86,104.88 L529.80,106.88 L529.74,108.88 L529.67,110.89 L529.61,112.89 L529.54,114.90 L529.48,116.90 L529.41,118.91 L529.35,120.91 L529.28,122.91 L529.21,124.92 L529.13,126.92 L529.05,128.93 L528.98,130.93 L528.89,132.94 L528.81,134.94 L528.73,136.94 L528.64,138.95 L528.55,140.95 L528.47,142.96 L528.38,144.96 L528.29,146.96 L528.20,148.97 L528.12,150.97 L528.03,152.98 L527.94,154.98 L527.85,156.99 L527.75,158.99 L527.66,160.99 L527.56,163.00 L527.45,165.00 L527.35,167.01 L527.23,169.01 L527.12,171.02 L526.99,173.02 L526.85,175.02 L526.71,177.03 L526.55,179.03 L526.40,181.04 L526.24,183.04 L526.08,185.04 L525.92,187.05 L525.76,189.05 L525.61,191.06 L525.46,193.06 L525.32,195.07 L525.19,197.07 L525.06,199.07 L524.93,201.08 L524.81,203.08 L524.69,205.09 L524.57,207.09 L524.45,209.09 L524.33,211.10 L524.21,213.10 L524.08,215.11 L523.96,217.11 L523.83,219.12 L523.70,221.12 L523.55,223.12 L523.39,225.13 L523.23,227.13 L523.08,229.14 L522.94,231.14 L522.84,233.15 L522.77,235.15 L522.73,237.15 L522.69,239.16 L522.66,241.16 L522.63,243.17 L522.63,245.17 L522.64,247.17 L522.67,249.18 L522.71,251.18 L522.76,253.19 L522.83,255.19 L522.92,257.20 L523.03,259.20 L539.43,259.20 L539.53,257.20 L539.63,255.19 L539.70,253.19 L539.74,251.18 L539.78,249.18 L539.81,247.17 L539.83,245.17 L539.82,243.17 L539.80,241.16 L539.77,239.16 L539.73,237.15 L539.68,235.15 L539.61,233.15 L539.51,231.14 L539.38,229.14 L539.23,227.13 L539.06,225.13 L538.90,223.12 L538.75,221.12 L538.62,219.12 L538.49,217.11 L538.37,215.11 L538.25,213.10 L538.13,211.10 L538.01,209.09 L537.89,207.09 L537.77,205.09 L537.64,203.08 L537.52,201.08 L537.39,199.07 L537.26,197.07 L537.13,195.07 L536.99,193.06 L536.85,191.06 L536.69,189.05 L536.54,187.05 L536.38,185.04 L536.22,183.04 L536.06,181.04 L535.90,179.03 L535.75,177.03 L535.60,175.02 L535.47,173.02 L535.34,171.02 L535.22,169.01 L535.11,167.01 L535.00,165.00 L534.90,163.00 L534.80,160.99 L534.70,158.99 L534.61,156.99 L534.52,154.98 L534.43,152.98 L534.34,150.97 L534.25,148.97 L534.16,146.96 L534.08,144.96 L533.99,142.96 L533.90,140.95 L533.81,138.95 L533.73,136.94 L533.64,134.94 L533.56,132.94 L533.48,130.93 L533.40,128.93 L533.32,126.92 L533.25,124.92 L533.18,122.91 L533.11,120.91 L533.04,118.91 L532.98,116.90 L532.91,114.90 L532.84,112.89 L532.78,110.89 L532.72,108.88 L532.65,106.88 L532.59,104.88 L532.53,102.87 L532.48,100.87 L532.42,98.86 L532.37,96.86 L532.32,94.86 L532.27,92.85 L532.23,90.85 L532.19,88.84 L532.16,86.84 L532.12,84.83 L532.10,82.83 L532.07,80.83 L532.04,78.82 L532.01,76.82 L531.98,74.81 L531.95,72.81 L531.93,70.81 L531.90,68.80 L531.87,66.80 L531.85,64.79 L531.82,62.79 L531.80,60.78 L531.78,58.78 L531.75,56.78 L531.73,54.77 L531.71,52.77 L531.69,50.76 L531.67,48.76 L531.65,46.75 L531.63,44.75 L531.62,42.75 L531.60,40.74 L531.59,38.74 L531.58,36.73 L531.57,34.73 L531.56,32.73 L531.55,30.72 L531.54,28.72 L531.53,26.71 L531.53,24.71 L531.53,22.70 L531.53,20.70 Z" fill="#E86955" stroke="#000" stroke-width="1.15" stroke-linejoin="round"/>
<line x1="531.23" y1="84.50" x2="531.23" y2="259.20" stroke="#000" stroke-width="1"/>
<rect x="530.03" y="186.70" width="2.4" height="68.70" fill="#000"/>
<circle cx="531.23" cy="234.10" r="3.9" fill="#fff"/>
<path d="M553.68,21.40 L553.68,23.40 L553.68,25.40 L553.68,27.39 L553.67,29.39 L553.67,31.39 L553.66,33.39 L553.65,35.39 L553.64,37.39 L553.63,39.38 L553.62,41.38 L553.61,43.38 L553.60,45.38 L553.59,47.38 L553.57,49.38 L553.56,51.37 L553.54,53.37 L553.52,55.37 L553.51,57.37 L553.49,59.37 L553.47,61.37 L553.45,63.36 L553.43,65.36 L553.42,67.36 L553.40,69.36 L553.38,71.36 L553.35,73.36 L553.33,75.35 L553.31,77.35 L553.29,79.35 L553.27,81.35 L553.25,83.35 L553.23,85.35 L553.21,87.34 L553.18,89.34 L553.15,91.34 L553.13,93.34 L553.10,95.34 L553.06,97.34 L553.03,99.33 L552.99,101.33 L552.96,103.33 L552.92,105.33 L552.88,107.33 L552.84,109.33 L552.79,111.32 L552.75,113.32 L552.70,115.32 L552.65,117.32 L552.60,119.32 L552.55,121.32 L552.49,123.31 L552.42,125.31 L552.35,127.31 L552.27,129.31 L552.19,131.31 L552.10,133.31 L552.01,135.30 L551.92,137.30 L551.83,139.30 L551.74,141.30 L551.66,143.30 L551.57,145.30 L551.48,147.29 L551.40,149.29 L551.31,151.29 L551.23,153.29 L551.14,155.29 L551.05,157.29 L550.96,159.28 L550.87,161.28 L550.78,163.28 L550.68,165.28 L550.58,167.28 L550.47,169.28 L550.36,171.27 L550.24,173.27 L550.12,175.27 L549.99,177.27 L549.85,179.27 L549.71,181.27 L549.57,183.26 L549.42,185.26 L549.28,187.26 L549.14,189.26 L548.99,191.26 L548.85,193.26 L548.71,195.25 L548.58,197.25 L548.45,199.25 L548.32,201.25 L548.19,203.25 L548.06,205.25 L547.93,207.24 L547.79,209.24 L547.66,211.24 L547.52,213.24 L547.38,215.24 L547.24,217.24 L547.09,219.23 L546.93,221.23 L546.74,223.23 L546.53,225.23 L546.32,227.23 L546.12,229.23 L545.95,231.22 L545.81,233.22 L545.73,235.22 L545.66,237.22 L545.61,239.22 L545.57,241.22 L545.54,243.21 L545.53,245.21 L545.55,247.21 L545.60,249.21 L545.66,251.21 L545.72,253.21 L545.78,255.20 L545.85,257.20 L545.93,259.20 L562.03,259.20 L562.11,257.20 L562.18,255.20 L562.25,253.21 L562.30,251.21 L562.36,249.21 L562.41,247.21 L562.43,245.21 L562.42,243.21 L562.40,241.22 L562.35,239.22 L562.30,237.22 L562.24,235.22 L562.15,233.22 L562.02,231.22 L561.84,229.23 L561.64,227.23 L561.43,225.23 L561.22,223.23 L561.03,221.23 L560.87,219.23 L560.72,217.24 L560.58,215.24 L560.44,213.24 L560.30,211.24 L560.17,209.24 L560.04,207.24 L559.91,205.25 L559.78,203.25 L559.65,201.25 L559.52,199.25 L559.38,197.25 L559.25,195.25 L559.11,193.26 L558.97,191.26 L558.83,189.26 L558.68,187.26 L558.54,185.26 L558.40,183.26 L558.25,181.27 L558.11,179.27 L557.98,177.27 L557.85,175.27 L557.72,173.27 L557.60,171.27 L557.49,169.28 L557.39,167.28 L557.28,165.28 L557.19,163.28 L557.09,161.28 L557.00,159.28 L556.91,157.29 L556.82,155.29 L556.74,153.29 L556.65,151.29 L556.56,149.29 L556.48,147.29 L556.39,145.30 L556.31,143.30 L556.22,141.30 L556.13,139.30 L556.04,137.30 L555.95,135.30 L555.86,133.31 L555.78,131.31 L555.70,129.31 L555.62,127.31 L555.55,125.31 L555.48,123.31 L555.42,121.32 L555.36,119.32 L555.31,117.32 L555.27,115.32 L555.22,113.32 L555.17,111.32 L555.13,109.33 L555.09,107.33 L555.05,105.33 L555.01,103.33 L554.97,101.33 L554.93,99.33 L554.90,97.34 L554.87,95.34 L554.84,93.34 L554.81,91.34 L554.78,89.34 L554.76,87.34 L554.74,85.35 L554.71,83.35 L554.69,81.35 L554.67,79.35 L554.65,77.35 L554.63,75.35 L554.61,73.36 L554.59,71.36 L554.57,69.36 L554.55,67.36 L554.53,65.36 L554.51,63.36 L554.49,61.37 L554.47,59.37 L554.46,57.37 L554.44,55.37 L554.42,53.37 L554.41,51.37 L554.39,49.38 L554.38,47.38 L554.37,45.38 L554.35,43.38 L554.34,41.38 L554.33,39.38 L554.32,37.39 L554.31,35.39 L554.30,33.39 L554.30,31.39 L554.29,29.39 L554.29,27.39 L554.28,25.40 L554.28,23.40 L554.28,21.40 Z" fill="#F4B4AA" stroke="#000" stroke-width="1.15" stroke-linejoin="round"/>
<line x1="553.98" y1="99.20" x2="553.98" y2="259.20" stroke="#000" stroke-width="1"/>
<rect x="552.78" y="192.20" width="2.4" height="63.20" fill="#000"/>
<circle cx="553.98" cy="237.80" r="3.9" fill="#fff"/>
<path d="M576.44,30.30 L576.44,32.22 L576.45,34.15 L576.46,36.07 L576.46,37.99 L576.47,39.92 L576.47,41.84 L576.48,43.76 L576.48,45.69 L576.49,47.61 L576.49,49.54 L576.50,51.46 L576.50,53.38 L576.50,55.31 L576.51,57.23 L576.51,59.15 L576.51,61.08 L576.52,63.00 L576.52,64.92 L576.52,66.85 L576.52,68.77 L576.53,70.69 L576.53,72.62 L576.53,74.54 L576.53,76.46 L576.53,78.39 L576.53,80.31 L576.53,82.24 L576.53,84.16 L576.53,86.08 L576.54,88.01 L576.54,89.93 L576.54,91.85 L576.54,93.78 L576.54,95.70 L576.54,97.62 L576.54,99.55 L576.54,101.47 L576.54,103.39 L576.54,105.32 L576.53,107.24 L576.53,109.16 L576.53,111.09 L576.53,113.01 L576.52,114.94 L576.52,116.86 L576.52,118.78 L576.51,120.71 L576.51,122.63 L576.51,124.55 L576.50,126.48 L576.50,128.40 L576.49,130.32 L576.48,132.25 L576.48,134.17 L576.47,136.09 L576.46,138.02 L576.46,139.94 L576.45,141.86 L576.44,143.79 L576.43,145.71 L576.42,147.64 L576.41,149.56 L576.40,151.48 L576.39,153.41 L576.38,155.33 L576.37,157.25 L576.35,159.18 L576.33,161.10 L576.30,163.02 L576.26,164.95 L576.22,166.87 L576.18,168.79 L576.13,170.72 L576.08,172.64 L576.02,174.56 L575.96,176.49 L575.89,178.41 L575.83,180.34 L575.75,182.26 L575.68,184.18 L575.60,186.11 L575.52,188.03 L575.44,189.95 L575.33,191.88 L575.19,193.80 L575.02,195.72 L574.81,197.65 L574.56,199.57 L574.28,201.49 L573.98,203.42 L573.67,205.34 L573.34,207.26 L572.98,209.19 L572.57,211.11 L572.13,213.04 L571.68,214.96 L571.25,216.88 L570.86,218.81 L570.51,220.73 L570.17,222.65 L569.85,224.58 L569.54,226.50 L569.26,228.42 L569.01,230.35 L568.81,232.27 L568.62,234.19 L568.44,236.12 L568.27,238.04 L568.12,239.96 L568.01,241.89 L567.95,243.81 L567.94,245.74 L567.98,247.66 L568.04,249.58 L568.12,251.51 L568.20,253.43 L568.29,255.35 L568.41,257.28 L568.54,259.20 L584.94,259.20 L585.06,257.28 L585.18,255.35 L585.28,253.43 L585.36,251.51 L585.43,249.58 L585.50,247.66 L585.53,245.74 L585.52,243.81 L585.46,241.89 L585.35,239.96 L585.20,238.04 L585.03,236.12 L584.85,234.19 L584.66,232.27 L584.46,230.35 L584.22,228.42 L583.93,226.50 L583.63,224.58 L583.30,222.65 L582.96,220.73 L582.62,218.81 L582.22,216.88 L581.79,214.96 L581.34,213.04 L580.91,211.11 L580.50,209.19 L580.13,207.26 L579.81,205.34 L579.49,203.42 L579.19,201.49 L578.91,199.57 L578.67,197.65 L578.45,195.72 L578.28,193.80 L578.14,191.88 L578.03,189.95 L577.95,188.03 L577.87,186.11 L577.79,184.18 L577.72,182.26 L577.65,180.34 L577.58,178.41 L577.51,176.49 L577.45,174.56 L577.40,172.64 L577.34,170.72 L577.29,168.79 L577.25,166.87 L577.21,164.95 L577.18,163.02 L577.15,161.10 L577.12,159.18 L577.10,157.25 L577.09,155.33 L577.08,153.41 L577.07,151.48 L577.06,149.56 L577.05,147.64 L577.04,145.71 L577.03,143.79 L577.02,141.86 L577.02,139.94 L577.01,138.02 L577.00,136.09 L577.00,134.17 L576.99,132.25 L576.98,130.32 L576.98,128.40 L576.97,126.48 L576.97,124.55 L576.96,122.63 L576.96,120.71 L576.95,118.78 L576.95,116.86 L576.95,114.94 L576.95,113.01 L576.94,111.09 L576.94,109.16 L576.94,107.24 L576.94,105.32 L576.94,103.39 L576.94,101.47 L576.94,99.55 L576.94,97.62 L576.94,95.70 L576.94,93.78 L576.94,91.85 L576.94,89.93 L576.94,88.01 L576.94,86.08 L576.94,84.16 L576.94,82.24 L576.94,80.31 L576.94,78.39 L576.94,76.46 L576.94,74.54 L576.95,72.62 L576.95,70.69 L576.95,68.77 L576.95,66.85 L576.95,64.92 L576.96,63.00 L576.96,61.08 L576.96,59.15 L576.97,57.23 L576.97,55.31 L576.97,53.38 L576.98,51.46 L576.98,49.54 L576.98,47.61 L576.99,45.69 L576.99,43.76 L577.00,41.84 L577.00,39.92 L577.01,37.99 L577.02,36.07 L577.02,34.15 L577.03,32.22 L577.04,30.30 Z" fill="#F19360" stroke="#000" stroke-width="1.15" stroke-linejoin="round"/>
<line x1="576.74" y1="201.40" x2="576.74" y2="259.20" stroke="#000" stroke-width="1"/>
<rect x="575.54" y="234.20" width="2.4" height="25.00" fill="#000"/>
<circle cx="576.74" cy="253.50" r="3.9" fill="#fff"/>
<path d="M599.19,42.20 L599.20,44.02 L599.21,45.85 L599.22,47.67 L599.22,49.49 L599.23,51.32 L599.24,53.14 L599.25,54.96 L599.25,56.79 L599.26,58.61 L599.27,60.44 L599.27,62.26 L599.28,64.08 L599.29,65.91 L599.29,67.73 L599.30,69.55 L599.30,71.38 L599.31,73.20 L599.31,75.02 L599.32,76.85 L599.32,78.67 L599.32,80.49 L599.33,82.32 L599.33,84.14 L599.33,85.96 L599.33,87.79 L599.34,89.61 L599.34,91.44 L599.34,93.26 L599.34,95.08 L599.34,96.91 L599.34,98.73 L599.34,100.55 L599.34,102.38 L599.34,104.20 L599.34,106.02 L599.34,107.85 L599.34,109.67 L599.34,111.49 L599.34,113.32 L599.33,115.14 L599.33,116.96 L599.33,118.79 L599.33,120.61 L599.32,122.44 L599.32,124.26 L599.32,126.08 L599.32,127.91 L599.31,129.73 L599.31,131.55 L599.30,133.38 L599.30,135.20 L599.30,137.02 L599.29,138.85 L599.29,140.67 L599.28,142.49 L599.28,144.32 L599.27,146.14 L599.27,147.96 L599.26,149.79 L599.25,151.61 L599.25,153.44 L599.24,155.26 L599.23,157.08 L599.21,158.91 L599.19,160.73 L599.16,162.55 L599.13,164.38 L599.09,166.20 L599.05,168.02 L599.00,169.85 L598.95,171.67 L598.89,173.49 L598.83,175.32 L598.77,177.14 L598.70,178.96 L598.62,180.79 L598.54,182.61 L598.46,184.44 L598.38,186.26 L598.29,188.08 L598.20,189.91 L598.07,191.73 L597.89,193.55 L597.70,195.38 L597.53,197.20 L597.34,199.02 L597.15,200.85 L596.95,202.67 L596.73,204.49 L596.49,206.32 L596.21,208.14 L595.86,209.96 L595.47,211.79 L595.05,213.61 L594.63,215.44 L594.22,217.26 L593.85,219.08 L593.54,220.91 L593.25,222.73 L592.97,224.55 L592.70,226.38 L592.45,228.20 L592.22,230.02 L592.01,231.85 L591.80,233.67 L591.59,235.49 L591.38,237.32 L591.19,239.14 L591.03,240.96 L590.91,242.79 L590.85,244.61 L590.82,246.44 L590.81,248.26 L590.80,250.08 L590.79,251.91 L590.79,253.73 L590.79,255.55 L590.79,257.38 L590.79,259.20 L608.19,259.20 L608.19,257.38 L608.19,255.55 L608.19,253.73 L608.19,251.91 L608.19,250.08 L608.17,248.26 L608.16,246.44 L608.13,244.61 L608.07,242.79 L607.95,240.96 L607.79,239.14 L607.60,237.32 L607.39,235.49 L607.18,233.67 L606.97,231.85 L606.76,230.02 L606.53,228.20 L606.28,226.38 L606.02,224.55 L605.74,222.73 L605.44,220.91 L605.13,219.08 L604.76,217.26 L604.35,215.44 L603.93,213.61 L603.51,211.79 L603.12,209.96 L602.77,208.14 L602.49,206.32 L602.25,204.49 L602.03,202.67 L601.83,200.85 L601.64,199.02 L601.46,197.20 L601.28,195.38 L601.09,193.55 L600.91,191.73 L600.79,189.91 L600.69,188.08 L600.61,186.26 L600.52,184.44 L600.44,182.61 L600.36,180.79 L600.29,178.96 L600.22,177.14 L600.15,175.32 L600.09,173.49 L600.03,171.67 L599.98,169.85 L599.93,168.02 L599.89,166.20 L599.85,164.38 L599.82,162.55 L599.79,160.73 L599.77,158.91 L599.75,157.08 L599.74,155.26 L599.74,153.44 L599.73,151.61 L599.72,149.79 L599.72,147.96 L599.71,146.14 L599.71,144.32 L599.70,142.49 L599.70,140.67 L599.69,138.85 L599.69,137.02 L599.68,135.20 L599.68,133.38 L599.67,131.55 L599.67,129.73 L599.67,127.91 L599.66,126.08 L599.66,124.26 L599.66,122.44 L599.66,120.61 L599.65,118.79 L599.65,116.96 L599.65,115.14 L599.65,113.32 L599.65,111.49 L599.64,109.67 L599.64,107.85 L599.64,106.02 L599.64,104.20 L599.64,102.38 L599.64,100.55 L599.64,98.73 L599.64,96.91 L599.64,95.08 L599.64,93.26 L599.64,91.44 L599.65,89.61 L599.65,87.79 L599.65,85.96 L599.65,84.14 L599.66,82.32 L599.66,80.49 L599.66,78.67 L599.67,76.85 L599.67,75.02 L599.68,73.20 L599.68,71.38 L599.69,69.55 L599.69,67.73 L599.70,65.91 L599.70,64.08 L599.71,62.26 L599.71,60.44 L599.72,58.61 L599.73,56.79 L599.73,54.96 L599.74,53.14 L599.75,51.32 L599.76,49.49 L599.77,47.67 L599.77,45.85 L599.78,44.02 L599.79,42.20 Z" fill="#F8C9B0" stroke="#000" stroke-width="1.15" stroke-linejoin="round"/>
<line x1="599.49" y1="203.50" x2="599.49" y2="259.20" stroke="#000" stroke-width="1"/>
<rect x="598.29" y="235.00" width="2.4" height="24.20" fill="#000"/>
<circle cx="599.49" cy="254.10" r="3.9" fill="#fff"/>
<path d="M621.95,21.40 L621.95,23.40 L621.95,25.40 L621.95,27.39 L621.94,29.39 L621.94,31.39 L621.94,33.39 L621.94,35.39 L621.94,37.39 L621.94,39.38 L621.94,41.38 L621.94,43.38 L621.94,45.38 L621.93,47.38 L621.93,49.38 L621.93,51.37 L621.93,53.37 L621.93,55.37 L621.92,57.37 L621.92,59.37 L621.92,61.37 L621.92,63.36 L621.91,65.36 L621.91,67.36 L621.91,69.36 L621.90,71.36 L621.90,73.36 L621.90,75.35 L621.89,77.35 L621.89,79.35 L621.89,81.35 L621.88,83.35 L621.88,85.35 L621.87,87.34 L621.87,89.34 L621.87,91.34 L621.86,93.34 L621.86,95.34 L621.85,97.34 L621.85,99.33 L621.84,101.33 L621.84,103.33 L621.83,105.33 L621.82,107.33 L621.81,109.33 L621.80,111.32 L621.78,113.32 L621.77,115.32 L621.75,117.32 L621.73,119.32 L621.72,121.32 L621.69,123.31 L621.67,125.31 L621.65,127.31 L621.63,129.31 L621.60,131.31 L621.57,133.31 L621.54,135.30 L621.52,137.30 L621.48,139.30 L621.45,141.30 L621.42,143.30 L621.38,145.30 L621.35,147.29 L621.31,149.29 L621.27,151.29 L621.23,153.29 L621.19,155.29 L621.14,157.29 L621.07,159.28 L621.00,161.28 L620.91,163.28 L620.81,165.28 L620.70,167.28 L620.58,169.28 L620.45,171.27 L620.31,173.27 L620.16,175.27 L620.01,177.27 L619.85,179.27 L619.69,181.27 L619.52,183.26 L619.35,185.26 L619.18,187.26 L619.00,189.26 L618.83,191.26 L618.65,193.26 L618.47,195.25 L618.28,197.25 L618.06,199.25 L617.83,201.25 L617.58,203.25 L617.32,205.25 L617.05,207.24 L616.78,209.24 L616.52,211.24 L616.26,213.24 L616.01,215.24 L615.78,217.24 L615.57,219.23 L615.38,221.23 L615.18,223.23 L614.99,225.23 L614.80,227.23 L614.63,229.23 L614.48,231.22 L614.37,233.22 L614.29,235.22 L614.23,237.22 L614.18,239.22 L614.13,241.22 L614.10,243.21 L614.10,245.21 L614.10,247.21 L614.10,249.21 L614.10,251.21 L614.10,253.21 L614.11,255.20 L614.13,257.20 L614.15,259.20 L630.35,259.20 L630.37,257.20 L630.38,255.20 L630.39,253.21 L630.40,251.21 L630.40,249.21 L630.40,247.21 L630.40,245.21 L630.39,243.21 L630.36,241.22 L630.32,239.22 L630.26,237.22 L630.20,235.22 L630.12,233.22 L630.01,231.22 L629.86,229.23 L629.69,227.23 L629.50,225.23 L629.31,223.23 L629.11,221.23 L628.92,219.23 L628.71,217.24 L628.48,215.24 L628.23,213.24 L627.98,211.24 L627.71,209.24 L627.44,207.24 L627.18,205.25 L626.91,203.25 L626.66,201.25 L626.43,199.25 L626.21,197.25 L626.02,195.25 L625.84,193.26 L625.66,191.26 L625.49,189.26 L625.31,187.26 L625.14,185.26 L624.97,183.26 L624.80,181.27 L624.64,179.27 L624.48,177.27 L624.33,175.27 L624.18,173.27 L624.05,171.27 L623.92,169.28 L623.80,167.28 L623.68,165.28 L623.58,163.28 L623.49,161.28 L623.42,159.28 L623.35,157.29 L623.30,155.29 L623.26,153.29 L623.22,151.29 L623.18,149.29 L623.14,147.29 L623.11,145.30 L623.07,143.30 L623.04,141.30 L623.01,139.30 L622.98,137.30 L622.95,135.30 L622.92,133.31 L622.89,131.31 L622.87,129.31 L622.84,127.31 L622.82,125.31 L622.80,123.31 L622.78,121.32 L622.76,119.32 L622.74,117.32 L622.72,115.32 L622.71,113.32 L622.70,111.32 L622.68,109.33 L622.67,107.33 L622.66,105.33 L622.66,103.33 L622.65,101.33 L622.64,99.33 L622.64,97.34 L622.63,95.34 L622.63,93.34 L622.63,91.34 L622.62,89.34 L622.62,87.34 L622.61,85.35 L622.61,83.35 L622.61,81.35 L622.60,79.35 L622.60,77.35 L622.59,75.35 L622.59,73.36 L622.59,71.36 L622.58,69.36 L622.58,67.36 L622.58,65.36 L622.58,63.36 L622.57,61.37 L622.57,59.37 L622.57,57.37 L622.57,55.37 L622.56,53.37 L622.56,51.37 L622.56,49.38 L622.56,47.38 L622.56,45.38 L622.55,43.38 L622.55,41.38 L622.55,39.38 L622.55,37.39 L622.55,35.39 L622.55,33.39 L622.55,31.39 L622.55,29.39 L622.55,27.39 L622.55,25.40 L622.55,23.40 L622.55,21.40 Z" fill="#F8C38C" stroke="#000" stroke-width="1.15" stroke-linejoin="round"/>
<line x1="622.25" y1="162.80" x2="622.25" y2="259.20" stroke="#000" stroke-width="1"/>
<rect x="621.05" y="219.30" width="2.4" height="37.40" fill="#000"/>
<circle cx="622.25" cy="242.90" r="3.9" fill="#fff"/>
<path d="M644.70,21.90 L644.70,23.89 L644.70,25.89 L644.70,27.88 L644.70,29.88 L644.70,31.87 L644.70,33.86 L644.70,35.86 L644.70,37.85 L644.69,39.85 L644.69,41.84 L644.69,43.84 L644.69,45.83 L644.69,47.82 L644.69,49.82 L644.68,51.81 L644.68,53.81 L644.68,55.80 L644.68,57.79 L644.67,59.79 L644.67,61.78 L644.67,63.78 L644.67,65.77 L644.66,67.76 L644.66,69.76 L644.66,71.75 L644.65,73.75 L644.65,75.74 L644.65,77.74 L644.64,79.73 L644.64,81.72 L644.64,83.72 L644.63,85.71 L644.63,87.71 L644.62,89.70 L644.62,91.69 L644.61,93.69 L644.61,95.68 L644.61,97.68 L644.60,99.67 L644.60,101.66 L644.59,103.66 L644.58,105.65 L644.58,107.65 L644.57,109.64 L644.56,111.64 L644.55,113.63 L644.54,115.62 L644.52,117.62 L644.51,119.61 L644.50,121.61 L644.48,123.60 L644.47,125.59 L644.45,127.59 L644.43,129.58 L644.41,131.58 L644.39,133.57 L644.37,135.56 L644.35,137.56 L644.32,139.55 L644.30,141.55 L644.27,143.54 L644.24,145.54 L644.22,147.53 L644.19,149.52 L644.16,151.52 L644.12,153.51 L644.09,155.51 L644.05,157.50 L643.99,159.49 L643.92,161.49 L643.83,163.48 L643.74,165.48 L643.63,167.47 L643.51,169.46 L643.38,171.46 L643.25,173.45 L643.11,175.45 L642.96,177.44 L642.80,179.44 L642.65,181.43 L642.48,183.42 L642.32,185.42 L642.15,187.41 L641.98,189.41 L641.81,191.40 L641.64,193.39 L641.47,195.39 L641.28,197.38 L641.08,199.38 L640.87,201.37 L640.64,203.36 L640.40,205.36 L640.16,207.35 L639.91,209.35 L639.67,211.34 L639.42,213.34 L639.18,215.33 L638.95,217.32 L638.72,219.32 L638.51,221.31 L638.28,223.31 L638.05,225.30 L637.83,227.29 L637.62,229.29 L637.42,231.28 L637.26,233.28 L637.14,235.27 L637.02,237.26 L636.92,239.26 L636.83,241.25 L636.77,243.25 L636.75,245.24 L636.77,247.24 L636.82,249.23 L636.88,251.22 L636.93,253.22 L636.98,255.21 L637.04,257.21 L637.10,259.20 L652.90,259.20 L652.96,257.21 L653.02,255.21 L653.07,253.22 L653.12,251.22 L653.18,249.23 L653.23,247.24 L653.25,245.24 L653.23,243.25 L653.17,241.25 L653.08,239.26 L652.98,237.26 L652.87,235.27 L652.74,233.28 L652.58,231.28 L652.38,229.29 L652.17,227.29 L651.95,225.30 L651.72,223.31 L651.49,221.31 L651.28,219.32 L651.05,217.32 L650.82,215.33 L650.58,213.34 L650.34,211.34 L650.09,209.35 L649.84,207.35 L649.60,205.36 L649.36,203.36 L649.13,201.37 L648.92,199.38 L648.72,197.38 L648.53,195.39 L648.36,193.39 L648.19,191.40 L648.02,189.41 L647.85,187.41 L647.68,185.42 L647.52,183.42 L647.36,181.43 L647.20,179.44 L647.04,177.44 L646.89,175.45 L646.75,173.45 L646.62,171.46 L646.49,169.46 L646.37,167.47 L646.27,165.48 L646.17,163.48 L646.08,161.49 L646.01,159.49 L645.95,157.50 L645.91,155.51 L645.88,153.51 L645.84,151.52 L645.81,149.52 L645.78,147.53 L645.76,145.54 L645.73,143.54 L645.70,141.55 L645.68,139.55 L645.66,137.56 L645.63,135.56 L645.61,133.57 L645.59,131.58 L645.57,129.58 L645.55,127.59 L645.54,125.59 L645.52,123.60 L645.50,121.61 L645.49,119.61 L645.48,117.62 L645.46,115.62 L645.45,113.63 L645.44,111.64 L645.43,109.64 L645.42,107.65 L645.42,105.65 L645.41,103.66 L645.40,101.66 L645.40,99.67 L645.40,97.68 L645.39,95.68 L645.39,93.69 L645.38,91.69 L645.38,89.70 L645.37,87.71 L645.37,85.71 L645.37,83.72 L645.36,81.72 L645.36,79.73 L645.35,77.74 L645.35,75.74 L645.35,73.75 L645.34,71.75 L645.34,69.76 L645.34,67.76 L645.33,65.77 L645.33,63.78 L645.33,61.78 L645.33,59.79 L645.32,57.79 L645.32,55.80 L645.32,53.81 L645.32,51.81 L645.31,49.82 L645.31,47.82 L645.31,45.83 L645.31,43.84 L645.31,41.84 L645.31,39.85 L645.31,37.85 L645.30,35.86 L645.30,33.86 L645.30,31.87 L645.30,29.88 L645.30,27.88 L645.30,25.89 L645.30,23.89 L645.30,21.90 Z" fill="#FCE1C6" stroke="#000" stroke-width="1.15" stroke-linejoin="round"/>
<line x1="645.00" y1="165.70" x2="645.00" y2="259.20" stroke="#000" stroke-width="1"/>
<rect x="643.80" y="220.00" width="2.4" height="36.70" fill="#000"/>
<circle cx="645.00" cy="243.50" r="3.9" fill="#fff"/>
<rect x="372.40" y="0.50" width="294.90" height="268.60" fill="none" stroke="#000" stroke-width="1.3"/>
<line x1="367.40" y1="259.20" x2="372.40" y2="259.20" stroke="#000" stroke-width="1.1"/>
<text transform="translate(361.30,260.70) rotate(-90)" text-anchor="middle" class="tk">0</text>
<line x1="367.40" y1="217.75" x2="372.40" y2="217.75" stroke="#000" stroke-width="1.1"/>
<text transform="translate(361.30,219.20) rotate(-90)" text-anchor="middle" class="tk">20</text>
<line x1="367.40" y1="176.30" x2="372.40" y2="176.30" stroke="#000" stroke-width="1.1"/>
<text transform="translate(361.30,177.50) rotate(-90)" text-anchor="middle" class="tk">40</text>
<line x1="367.40" y1="134.85" x2="372.40" y2="134.85" stroke="#000" stroke-width="1.1"/>
<text transform="translate(361.30,135.90) rotate(-90)" text-anchor="middle" class="tk">60</text>
<line x1="367.40" y1="93.40" x2="372.40" y2="93.40" stroke="#000" stroke-width="1.1"/>
<text transform="translate(361.30,94.75) rotate(-90)" text-anchor="middle" class="tk">80</text>
<line x1="367.40" y1="51.95" x2="372.40" y2="51.95" stroke="#000" stroke-width="1.1"/>
<text transform="translate(361.30,52.55) rotate(-90)" text-anchor="middle" class="tk">100</text>
<line x1="367.40" y1="10.50" x2="372.40" y2="10.50" stroke="#000" stroke-width="1.1"/>
<text transform="translate(361.30,10.45) rotate(-90)" text-anchor="middle" class="tk">120</text>
<text x="73.40" y="280.4" text-anchor="middle" class="xl">Adelaide</text>
<text x="73.40" y="291.4" text-anchor="middle" class="xl">Island</text>
<text x="118.00" y="280.4" text-anchor="middle" class="xl">South</text>
<text x="118.00" y="291.4" text-anchor="middle" class="xl">WAP</text>
<text x="163.70" y="280.4" text-anchor="middle" class="xl">Adelie</text>
<text x="163.70" y="291.4" text-anchor="middle" class="xl">Gap</text>
<text x="208.90" y="280.4" text-anchor="middle" class="xl">North</text>
<text x="208.90" y="291.4" text-anchor="middle" class="xl">WAP</text>
<text x="255.40" y="280.4" text-anchor="middle" class="xl">Elephant</text>
<text x="255.40" y="291.4" text-anchor="middle" class="xl">Island</text>
<text x="300.80" y="280.4" text-anchor="middle" class="xl">South</text>
<text x="300.80" y="291.4" text-anchor="middle" class="xl">Shetlands</text>
<text x="408.40" y="280.4" text-anchor="middle" class="xl">Adelaide</text>
<text x="408.40" y="291.4" text-anchor="middle" class="xl">Island</text>
<text x="453.00" y="280.4" text-anchor="middle" class="xl">South</text>
<text x="453.00" y="291.4" text-anchor="middle" class="xl">WAP</text>
<text x="498.70" y="280.4" text-anchor="middle" class="xl">Adelie</text>
<text x="498.70" y="291.4" text-anchor="middle" class="xl">Gap</text>
<text x="543.90" y="280.4" text-anchor="middle" class="xl">North</text>
<text x="543.90" y="291.4" text-anchor="middle" class="xl">WAP</text>
<text x="590.40" y="280.4" text-anchor="middle" class="xl">Elephant</text>
<text x="590.40" y="291.4" text-anchor="middle" class="xl">Island</text>
<text x="635.80" y="280.4" text-anchor="middle" class="xl">South</text>
<text x="635.80" y="291.4" text-anchor="middle" class="xl">Shetlands</text>
<text x="313.9" y="18.7" text-anchor="middle" class="pl">a</text>
<text x="649.0" y="18.7" text-anchor="middle" class="pl">b</text>
<text transform="translate(8.0,128.95) rotate(-90)" text-anchor="middle" class="yt">Time in Region (days)</text>
</svg>
</body></html>
